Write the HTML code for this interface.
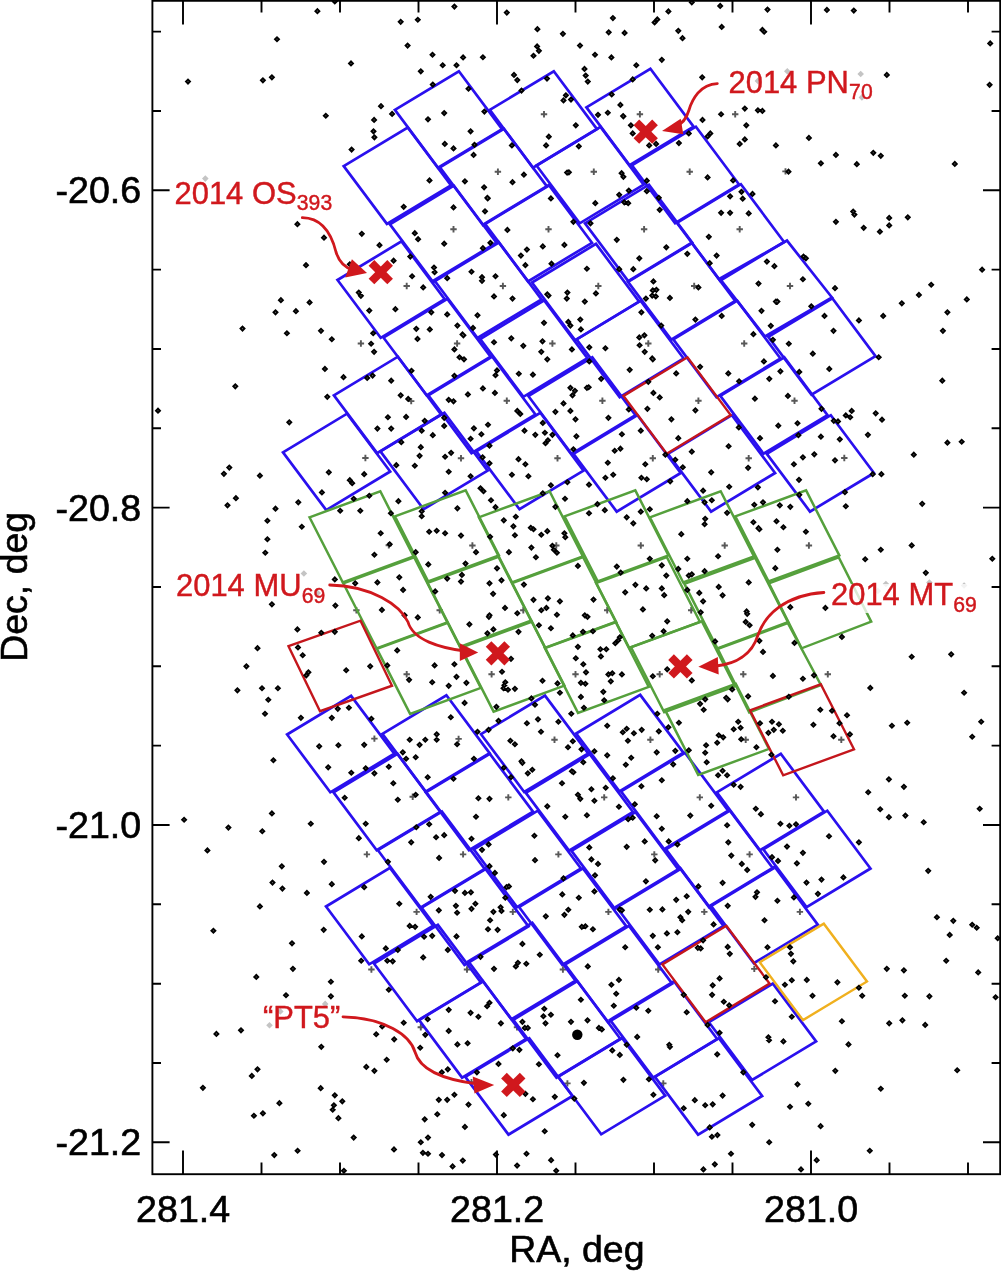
<!DOCTYPE html>
<html><head><meta charset="utf-8"><title>HST search fields</title>
<style>html,body{margin:0;padding:0;background:#fff}svg{display:block}text{font-family:"Liberation Sans",sans-serif}</style></head><body>
<svg width="1001" height="1271" viewBox="0 0 1001 1271">
<rect width="1001" height="1271" fill="#fff"/>
<path stroke="#585858" stroke-width="1.9" fill="none" d="M403.5 286.0h6.4M406.7 282.8v6.4M357.7 343.5h6.4M360.9 340.3v6.4M408.0 401.1h6.4M411.2 397.9v6.4M362.2 458.0h6.4M365.4 454.8v6.4M385.6 545.2h6.4M388.8 542.0v6.4M353.2 610.3h6.4M356.4 607.1v6.4M436.5 610.3h6.4M439.7 607.1v6.4M403.5 674.2h6.4M406.7 671.0v6.4M371.2 738.6h6.4M374.4 735.4v6.4M409.5 796.8h6.4M412.7 793.6v6.4M363.7 854.4h6.4M366.9 851.2v6.4M413.4 911.9h6.4M416.6 908.7v6.4M368.2 969.5h6.4M371.4 966.3v6.4M417.6 1027.3h6.4M420.8 1024.1v6.4M540.8 114.2h6.4M544.0 111.0v6.4M636.7 114.2h6.4M639.9 111.0v6.4M732.0 114.2h6.4M735.2 111.0v6.4M494.7 171.7h6.4M497.9 168.5v6.4M590.6 171.7h6.4M593.8 168.5v6.4M686.5 171.7h6.4M689.7 168.5v6.4M450.3 229.3h6.4M453.5 226.1v6.4M545.3 229.3h6.4M548.5 226.1v6.4M640.9 229.3h6.4M644.1 226.1v6.4M736.5 229.3h6.4M739.7 226.1v6.4M499.7 286.0h6.4M502.9 282.8v6.4M595.1 286.0h6.4M598.3 282.8v6.4M691.0 286.0h6.4M694.2 282.8v6.4M453.9 343.5h6.4M457.1 340.3v6.4M549.2 343.5h6.4M552.4 340.3v6.4M645.1 343.5h6.4M648.3 340.3v6.4M741.0 343.5h6.4M744.2 340.3v6.4M503.6 400.8h6.4M506.8 397.6v6.4M599.2 400.8h6.4M602.4 397.6v6.4M695.2 400.8h6.4M698.4 397.6v6.4M457.8 458.3h6.4M461.0 455.1v6.4M554.3 458.3h6.4M557.5 455.1v6.4M649.6 458.3h6.4M652.8 455.1v6.4M745.5 458.3h6.4M748.7 455.1v6.4M469.2 545.5h6.4M472.4 542.3v6.4M553.1 545.5h6.4M556.3 542.3v6.4M637.6 545.5h6.4M640.8 542.3v6.4M721.5 545.5h6.4M724.7 542.3v6.4M488.4 674.2h6.4M491.6 671.0v6.4M572.3 674.2h6.4M575.5 671.0v6.4M656.5 674.2h6.4M659.7 671.0v6.4M740.1 674.2h6.4M743.3 671.0v6.4M455.4 738.9h6.4M458.6 735.7v6.4M551.3 739.8h6.4M554.5 736.6v6.4M647.2 739.8h6.4M650.4 736.6v6.4M742.5 739.8h6.4M745.7 736.6v6.4M505.1 797.4h6.4M508.3 794.2v6.4M601.0 797.4h6.4M604.2 794.2v6.4M696.6 797.4h6.4M699.8 794.2v6.4M520.1 610.3h6.4M523.3 607.1v6.4M604.0 610.3h6.4M607.2 607.1v6.4M688.0 610.3h6.4M691.2 607.1v6.4M459.9 854.4h6.4M463.1 851.2v6.4M555.2 854.4h6.4M558.4 851.2v6.4M651.1 854.4h6.4M654.3 851.2v6.4M746.4 854.4h6.4M749.6 851.2v6.4M509.6 911.9h6.4M512.8 908.7v6.4M605.2 911.9h6.4M608.4 908.7v6.4M701.1 911.9h6.4M704.3 908.7v6.4M463.8 969.5h6.4M467.0 966.3v6.4M559.7 969.5h6.4M562.9 966.3v6.4M655.0 969.5h6.4M658.2 966.3v6.4M513.8 1027.3h6.4M517.0 1024.1v6.4M564.2 1083.4h6.4M567.4 1080.2v6.4M660.1 1083.4h6.4M663.3 1080.2v6.4M468.3 1082.2h6.4M471.5 1079.0v6.4M782.3 171.4h6.4M785.5 168.2v6.4M786.8 286.0h6.4M790.0 282.8v6.4M791.3 400.8h6.4M794.5 397.6v6.4M841.1 458.0h6.4M844.3 454.8v6.4M805.7 545.5h6.4M808.9 542.3v6.4M824.6 674.2h6.4M827.8 671.0v6.4M838.1 739.8h6.4M841.3 736.6v6.4M792.8 797.4h6.4M796.0 794.2v6.4M796.7 911.9h6.4M799.9 908.7v6.4M751.1 968.9h6.4M754.3 965.7v6.4"/>
<g fill="none" stroke-linejoin="miter">
<polygon stroke="#2a10ee" stroke-width="2.7" points="586.4,107.4 650.4,68.8 693.6,126.6 629.6,165.2"/>
<polygon stroke="#2a10ee" stroke-width="2.7" points="631.9,165.3 695.9,126.7 739.1,184.5 675.1,223.1"/>
<polygon stroke="#2a10ee" stroke-width="2.7" points="676.9,222.8 740.9,184.2 784.1,242.0 720.1,280.6"/>
<polygon stroke="#2a10ee" stroke-width="2.7" points="768.3,336.9 832.3,298.3 875.5,356.1 811.5,394.7"/>
<polygon stroke="#2a10ee" stroke-width="2.7" points="489.8,109.9 553.8,71.3 597.0,129.1 533.0,167.7"/>
<polygon stroke="#2a10ee" stroke-width="2.7" points="536.5,165.5 600.5,126.9 643.7,184.7 579.7,223.3"/>
<polygon stroke="#2a10ee" stroke-width="2.7" points="585.0,223.3 649.0,184.7 692.2,242.5 628.2,281.1"/>
<polygon stroke="#2a10ee" stroke-width="2.7" points="628.0,281.8 692.0,243.2 735.2,301.0 671.2,339.6"/>
<polygon stroke="#2a10ee" stroke-width="2.7" points="673.3,339.3 737.3,300.7 780.5,358.5 716.5,397.1"/>
<polygon stroke="#2a10ee" stroke-width="2.7" points="720.3,395.9 784.3,357.3 827.5,415.1 763.5,453.7"/>
<polygon stroke="#2a10ee" stroke-width="2.7" points="766.8,453.8 830.8,415.2 874.0,473.0 810.0,511.6"/>
<polygon stroke="#2a10ee" stroke-width="2.7" points="394.9,109.9 458.9,71.3 502.1,129.1 438.1,167.7"/>
<polygon stroke="#2a10ee" stroke-width="2.7" points="439.9,167.4 503.9,128.8 547.1,186.6 483.1,225.2"/>
<polygon stroke="#2a10ee" stroke-width="2.7" points="484.8,223.6 548.8,185.0 592.0,242.8 528.0,281.4"/>
<polygon stroke="#2a10ee" stroke-width="2.7" points="532.0,282.5 596.0,243.9 639.2,301.7 575.2,340.3"/>
<polygon stroke="#2a10ee" stroke-width="2.7" points="576.5,339.3 640.5,300.7 683.7,358.5 619.7,397.1"/>
<polygon stroke="#2a10ee" stroke-width="2.7" points="667.9,453.8 731.9,415.2 775.1,473.0 711.1,511.6"/>
<polygon stroke="#2a10ee" stroke-width="2.7" points="343.7,166.1 407.7,127.5 450.9,185.3 386.9,223.9"/>
<polygon stroke="#2a10ee" stroke-width="2.7" points="389.9,224.3 453.9,185.7 497.1,243.5 433.1,282.1"/>
<polygon stroke="#2a10ee" stroke-width="2.7" points="434.3,280.2 498.3,241.6 541.5,299.4 477.5,338.0"/>
<polygon stroke="#2a10ee" stroke-width="2.7" points="480.2,339.0 544.2,300.4 587.4,358.2 523.4,396.8"/>
<polygon stroke="#2a10ee" stroke-width="2.7" points="528.3,396.0 592.3,357.4 635.5,415.2 571.5,453.8"/>
<polygon stroke="#2a10ee" stroke-width="2.7" points="573.5,453.8 637.5,415.2 680.7,473.0 616.7,511.6"/>
<polygon stroke="#2a10ee" stroke-width="2.7" points="337.5,280.0 401.5,241.4 444.7,299.2 380.7,337.8"/>
<polygon stroke="#2a10ee" stroke-width="2.7" points="383.4,337.5 447.4,298.9 490.6,356.7 426.6,395.3"/>
<polygon stroke="#2a10ee" stroke-width="2.7" points="428.3,395.3 492.3,356.7 535.5,414.5 471.5,453.1"/>
<polygon stroke="#2a10ee" stroke-width="2.7" points="476.3,451.4 540.3,412.8 583.5,470.6 519.5,509.2"/>
<polygon stroke="#2a10ee" stroke-width="2.7" points="333.9,395.3 397.9,356.7 441.1,414.5 377.1,453.1"/>
<polygon stroke="#2a10ee" stroke-width="2.7" points="380.4,451.4 444.4,412.8 487.6,470.6 423.6,509.2"/>
<polygon stroke="#2a10ee" stroke-width="2.7" points="283.0,452.3 347.0,413.7 390.2,471.5 326.2,510.1"/>
<polygon stroke="#2a10ee" stroke-width="2.7" points="287.1,734.5 351.1,695.9 394.3,753.7 330.3,792.3"/>
<polygon stroke="#2a10ee" stroke-width="2.7" points="333.5,792.4 397.5,753.8 440.7,811.6 376.7,850.2"/>
<polygon stroke="#2a10ee" stroke-width="2.7" points="377.9,850.2 441.9,811.6 485.1,869.4 421.1,908.0"/>
<polygon stroke="#2a10ee" stroke-width="2.7" points="421.3,907.2 485.3,868.6 528.5,926.4 464.5,965.0"/>
<polygon stroke="#2a10ee" stroke-width="2.7" points="468.3,961.4 532.3,922.8 575.5,980.6 511.5,1019.2"/>
<polygon stroke="#2a10ee" stroke-width="2.7" points="513.3,1019.8 577.3,981.2 620.5,1039.0 556.5,1077.6"/>
<polygon stroke="#2a10ee" stroke-width="2.7" points="558.0,1076.5 622.0,1037.9 665.2,1095.7 601.2,1134.3"/>
<polygon stroke="#2a10ee" stroke-width="2.7" points="382.4,733.9 446.4,695.3 489.6,753.1 425.6,791.7"/>
<polygon stroke="#2a10ee" stroke-width="2.7" points="425.8,792.4 489.8,753.8 533.0,811.6 469.0,850.2"/>
<polygon stroke="#2a10ee" stroke-width="2.7" points="473.8,849.3 537.8,810.7 581.0,868.5 517.0,907.1"/>
<polygon stroke="#2a10ee" stroke-width="2.7" points="519.0,907.0 583.0,868.4 626.2,926.2 562.2,964.8"/>
<polygon stroke="#2a10ee" stroke-width="2.7" points="565.0,964.5 629.0,925.9 672.2,983.7 608.2,1022.3"/>
<polygon stroke="#2a10ee" stroke-width="2.7" points="610.0,1019.8 674.0,981.2 717.2,1039.0 653.2,1077.6"/>
<polygon stroke="#2a10ee" stroke-width="2.7" points="654.9,1076.8 718.9,1038.2 762.1,1096.0 698.1,1134.6"/>
<polygon stroke="#2a10ee" stroke-width="2.7" points="481.0,734.2 545.0,695.6 588.2,753.4 524.2,792.0"/>
<polygon stroke="#2a10ee" stroke-width="2.7" points="525.8,792.8 589.8,754.2 633.0,812.0 569.0,850.6"/>
<polygon stroke="#2a10ee" stroke-width="2.7" points="571.5,850.8 635.5,812.2 678.7,870.0 614.7,908.6"/>
<polygon stroke="#2a10ee" stroke-width="2.7" points="616.3,906.7 680.3,868.1 723.5,925.9 659.5,964.5"/>
<polygon stroke="#2a10ee" stroke-width="2.7" points="708.9,1022.2 772.9,983.6 816.1,1041.4 752.1,1080.0"/>
<polygon stroke="#2a10ee" stroke-width="2.7" points="576.2,733.5 640.2,694.9 683.4,752.7 619.4,791.3"/>
<polygon stroke="#2a10ee" stroke-width="2.7" points="621.0,791.4 685.0,752.8 728.2,810.6 664.2,849.2"/>
<polygon stroke="#2a10ee" stroke-width="2.7" points="665.9,849.3 729.9,810.7 773.1,868.5 709.1,907.1"/>
<polygon stroke="#2a10ee" stroke-width="2.7" points="710.6,905.4 774.6,866.8 817.8,924.6 753.8,963.2"/>
<polygon stroke="#2a10ee" stroke-width="2.7" points="716.8,792.4 780.8,753.8 824.0,811.6 760.0,850.2"/>
<polygon stroke="#2a10ee" stroke-width="2.7" points="763.3,849.3 827.3,810.7 870.5,868.5 806.5,907.1"/>
<polygon stroke="#2a10ee" stroke-width="2.7" points="326.0,906.5 390.0,867.9 433.2,925.7 369.2,964.3"/>
<polygon stroke="#2a10ee" stroke-width="2.7" points="373.9,963.5 437.9,924.9 481.1,982.7 417.1,1021.3"/>
<polygon stroke="#2a10ee" stroke-width="2.7" points="418.9,1019.8 482.9,981.2 526.1,1039.0 462.1,1077.6"/>
<polygon stroke="#2a10ee" stroke-width="2.7" points="465.3,1076.8 529.3,1038.2 572.5,1096.0 508.5,1134.6"/>
<polygon stroke="#55a03c" stroke-width="2.5" points="309.5,517.3 380.3,491.3 413.5,556.3 342.7,582.3"/>
<polygon stroke="#55a03c" stroke-width="2.5" points="343.3,583.3 414.1,557.3 447.3,622.3 376.5,648.3"/>
<polygon stroke="#55a03c" stroke-width="2.5" points="376.9,648.9 447.7,622.9 480.9,687.9 410.1,713.9"/>
<polygon stroke="#55a03c" stroke-width="2.5" points="394.9,516.4 465.7,490.4 498.9,555.4 428.1,581.4"/>
<polygon stroke="#55a03c" stroke-width="2.5" points="478.8,517.3 549.6,491.3 582.8,556.3 512.0,582.3"/>
<polygon stroke="#55a03c" stroke-width="2.5" points="512.2,583.0 583.0,557.0 616.2,622.0 545.4,648.0"/>
<polygon stroke="#55a03c" stroke-width="2.5" points="544.8,647.9 615.6,621.9 648.8,686.9 578.0,712.9"/>
<polygon stroke="#55a03c" stroke-width="2.5" points="564.5,516.4 635.3,490.4 668.5,555.4 597.7,581.4"/>
<polygon stroke="#55a03c" stroke-width="2.5" points="596.0,583.0 666.8,557.0 700.0,622.0 629.2,648.0"/>
<polygon stroke="#55a03c" stroke-width="2.5" points="631.0,647.2 701.8,621.2 735.0,686.2 664.2,712.2"/>
<polygon stroke="#55a03c" stroke-width="2.5" points="649.9,517.3 720.7,491.3 753.9,556.3 683.1,582.3"/>
<polygon stroke="#55a03c" stroke-width="2.5" points="684.4,583.9 755.2,557.9 788.4,622.9 717.6,648.9"/>
<polygon stroke="#55a03c" stroke-width="2.5" points="735.3,516.4 806.1,490.4 839.3,555.4 768.5,581.4"/>
<polygon stroke="#55a03c" stroke-width="2.5" points="665.0,709.9 735.8,683.9 769.0,748.9 698.2,774.9"/>
<polygon stroke="#55a03c" stroke-width="2.5" points="427.6,582.8 498.4,556.8 531.6,621.8 460.8,647.8"/>
<polygon stroke="#55a03c" stroke-width="2.5" points="460.4,646.6 531.2,620.6 564.4,685.6 493.6,711.6"/>
<polygon stroke="#55a03c" stroke-width="2.5" points="768.9,583.3 838.7,557.3 871.2,621.6 801.6,648.3"/>
<polygon stroke="#55a03c" stroke-width="2.5" points="717.4,648.3 787.5,622.3 820.9,685.0 749.2,712.4"/>
<polygon stroke="#2a10ee" stroke-width="2.7" points="719.7,278.6 787.0,240.6 832.0,297.5 765.0,336.5"/>
<polygon stroke="#c4161c" stroke-width="2.4" points="623.5,395.9 687.5,357.3 730.7,415.1 666.7,453.7"/>
<polygon stroke="#c4161c" stroke-width="2.4" points="288.5,646.2 360.5,620.7 392.0,685.7 320.0,711.2"/>
<polygon stroke="#c4161c" stroke-width="2.4" points="750.0,710.3 820.8,684.3 854.0,749.3 783.2,775.3"/>
<polygon stroke="#c4161c" stroke-width="2.4" points="662.4,964.4 726.4,925.8 769.6,983.6 705.6,1022.2"/>
<polygon stroke="#f0b01e" stroke-width="2.4" points="759.8,962.3 823.8,923.7 867.0,981.5 803.0,1020.1"/>
</g>
<path fill="#c4c4c4" d="M205.3 175.3l3.3 3.3l-3.3 3.3l-3.3-3.3zM303.9 570.2l3.3 3.3l-3.3 3.3l-3.3-3.3zM317.7 589.7l3.3 3.3l-3.3 3.3l-3.3-3.3zM325.2 1000.6l3.3 3.3l-3.3 3.3l-3.3-3.3zM280.3 1008.1l3.3 3.3l-3.3 3.3l-3.3-3.3zM269.5 1021.9l3.3 3.3l-3.3 3.3l-3.3-3.3zM787.3 68.0l3.3 3.3l-3.3 3.3l-3.3-3.3zM860.7 70.7l3.3 3.3l-3.3 3.3l-3.3-3.3zM861.9 94.1l3.3 3.3l-3.3 3.3l-3.3-3.3zM757.9 77.6l3.3 3.3l-3.3 3.3l-3.3-3.3zM885.9 580.7l3.3 3.3l-3.3 3.3l-3.3-3.3zM877.8 587.6l3.3 3.3l-3.3 3.3l-3.3-3.3zM929.4 579.2l3.3 3.3l-3.3 3.3l-3.3-3.3zM964.1 582.2l3.3 3.3l-3.3 3.3l-3.3-3.3z"/>
<path fill="#000" d="M317.4 7.8l3.35 3.35l-3.35 3.35l-3.35-3.35zM334.8 -1.9l3.35 3.35l-3.35 3.35l-3.35-3.35zM400.7 18.5l3.35 3.35l-3.35 3.35l-3.35-3.35zM417.8 16.4l3.35 3.35l-3.35 3.35l-3.35-3.35zM277.0 35.9l3.35 3.35l-3.35 3.35l-3.35-3.35zM407.6 42.2l3.35 3.35l-3.35 3.35l-3.35-3.35zM432.5 51.4l3.35 3.35l-3.35 3.35l-3.35-3.35zM351.0 60.1l3.35 3.35l-3.35 3.35l-3.35-3.35zM442.7 61.9l3.35 3.35l-3.35 3.35l-3.35-3.35zM420.8 68.0l3.35 3.35l-3.35 3.35l-3.35-3.35zM188.0 78.2l3.35 3.35l-3.35 3.35l-3.35-3.35zM262.9 77.0l3.35 3.35l-3.35 3.35l-3.35-3.35zM271.9 74.0l3.35 3.35l-3.35 3.35l-3.35-3.35zM432.8 81.2l3.35 3.35l-3.35 3.35l-3.35-3.35zM381.0 102.8l3.35 3.35l-3.35 3.35l-3.35-3.35zM392.1 110.6l3.35 3.35l-3.35 3.35l-3.35-3.35zM325.8 112.4l3.35 3.35l-3.35 3.35l-3.35-3.35zM374.1 116.6l3.35 3.35l-3.35 3.35l-3.35-3.35zM428.0 116.0l3.35 3.35l-3.35 3.35l-3.35-3.35zM444.2 109.7l3.35 3.35l-3.35 3.35l-3.35-3.35zM373.5 128.0l3.35 3.35l-3.35 3.35l-3.35-3.35zM374.4 134.0l3.35 3.35l-3.35 3.35l-3.35-3.35zM351.6 146.2l3.35 3.35l-3.35 3.35l-3.35-3.35zM444.8 140.6l3.35 3.35l-3.35 3.35l-3.35-3.35zM429.5 177.1l3.35 3.35l-3.35 3.35l-3.35-3.35zM403.7 203.5l3.35 3.35l-3.35 3.35l-3.35-3.35zM297.4 220.8l3.35 3.35l-3.35 3.35l-3.35-3.35zM361.8 230.5l3.35 3.35l-3.35 3.35l-3.35-3.35zM414.8 229.8l3.35 3.35l-3.35 3.35l-3.35-3.35zM418.1 235.8l3.35 3.35l-3.35 3.35l-3.35-3.35zM324.0 234.3l3.35 3.35l-3.35 3.35l-3.35-3.35zM379.5 241.8l3.35 3.35l-3.35 3.35l-3.35-3.35zM444.2 240.3l3.35 3.35l-3.35 3.35l-3.35-3.35zM410.3 253.2l3.35 3.35l-3.35 3.35l-3.35-3.35zM393.6 257.3l3.35 3.35l-3.35 3.35l-3.35-3.35zM306.0 261.8l3.35 3.35l-3.35 3.35l-3.35-3.35zM349.8 260.9l3.35 3.35l-3.35 3.35l-3.35-3.35zM434.0 264.2l3.35 3.35l-3.35 3.35l-3.35-3.35zM434.6 268.8l3.35 3.35l-3.35 3.35l-3.35-3.35zM412.1 272.9l3.35 3.35l-3.35 3.35l-3.35-3.35zM447.2 274.8l3.35 3.35l-3.35 3.35l-3.35-3.35zM353.7 1134.2l3.35 3.35l-3.35 3.35l-3.35-3.35zM428.0 1134.2l3.35 3.35l-3.35 3.35l-3.35-3.35zM420.8 1138.9l3.35 3.35l-3.35 3.35l-3.35-3.35zM464.9 1123.6l3.35 3.35l-3.35 3.35l-3.35-3.35zM544.7 1127.9l3.35 3.35l-3.35 3.35l-3.35-3.35zM394.0 1146.1l3.35 3.35l-3.35 3.35l-3.35-3.35zM422.9 1149.5l3.35 3.35l-3.35 3.35l-3.35-3.35zM428.0 1150.4l3.35 3.35l-3.35 3.35l-3.35-3.35zM442.0 1151.7l3.35 3.35l-3.35 3.35l-3.35-3.35zM274.3 1151.7l3.35 3.35l-3.35 3.35l-3.35-3.35zM297.6 1147.4l3.35 3.35l-3.35 3.35l-3.35-3.35zM495.9 1151.2l3.35 3.35l-3.35 3.35l-3.35-3.35zM526.5 1150.4l3.35 3.35l-3.35 3.35l-3.35-3.35zM551.1 1156.8l3.35 3.35l-3.35 3.35l-3.35-3.35zM462.8 1157.2l3.35 3.35l-3.35 3.35l-3.35-3.35zM452.6 1163.1l3.35 3.35l-3.35 3.35l-3.35-3.35zM517.1 1162.2l3.35 3.35l-3.35 3.35l-3.35-3.35zM556.2 1167.4l3.35 3.35l-3.35 3.35l-3.35-3.35zM343.9 1167.4l3.35 3.35l-3.35 3.35l-3.35-3.35zM280.9 296.8l3.35 3.35l-3.35 3.35l-3.35-3.35zM309.6 299.1l3.35 3.35l-3.35 3.35l-3.35-3.35zM275.5 309.0l3.35 3.35l-3.35 3.35l-3.35-3.35zM295.9 307.8l3.35 3.35l-3.35 3.35l-3.35-3.35zM242.5 325.2l3.35 3.35l-3.35 3.35l-3.35-3.35zM286.9 329.9l3.35 3.35l-3.35 3.35l-3.35-3.35zM321.0 327.5l3.35 3.35l-3.35 3.35l-3.35-3.35zM331.8 335.9l3.35 3.35l-3.35 3.35l-3.35-3.35zM358.8 289.2l3.35 3.35l-3.35 3.35l-3.35-3.35zM360.9 292.5l3.35 3.35l-3.35 3.35l-3.35-3.35zM423.2 284.1l3.35 3.35l-3.35 3.35l-3.35-3.35zM369.3 307.2l3.35 3.35l-3.35 3.35l-3.35-3.35zM395.4 305.8l3.35 3.35l-3.35 3.35l-3.35-3.35zM431.3 309.0l3.35 3.35l-3.35 3.35l-3.35-3.35zM447.2 311.1l3.35 3.35l-3.35 3.35l-3.35-3.35zM416.3 325.5l3.35 3.35l-3.35 3.35l-3.35-3.35zM429.8 326.1l3.35 3.35l-3.35 3.35l-3.35-3.35zM417.5 335.6l3.35 3.35l-3.35 3.35l-3.35-3.35zM373.2 329.9l3.35 3.35l-3.35 3.35l-3.35-3.35zM371.1 340.4l3.35 3.35l-3.35 3.35l-3.35-3.35zM374.1 348.5l3.35 3.35l-3.35 3.35l-3.35-3.35zM324.9 365.6l3.35 3.35l-3.35 3.35l-3.35-3.35zM343.5 373.8l3.35 3.35l-3.35 3.35l-3.35-3.35zM367.2 374.6l3.35 3.35l-3.35 3.35l-3.35-3.35zM372.6 372.2l3.35 3.35l-3.35 3.35l-3.35-3.35zM391.2 377.3l3.35 3.35l-3.35 3.35l-3.35-3.35zM411.5 367.4l3.35 3.35l-3.35 3.35l-3.35-3.35zM235.3 383.0l3.35 3.35l-3.35 3.35l-3.35-3.35zM327.3 393.5l3.35 3.35l-3.35 3.35l-3.35-3.35zM400.7 392.0l3.35 3.35l-3.35 3.35l-3.35-3.35zM408.2 395.6l3.35 3.35l-3.35 3.35l-3.35-3.35zM158.0 407.3l3.35 3.35l-3.35 3.35l-3.35-3.35zM289.3 419.0l3.35 3.35l-3.35 3.35l-3.35-3.35zM387.9 413.9l3.35 3.35l-3.35 3.35l-3.35-3.35zM406.1 413.6l3.35 3.35l-3.35 3.35l-3.35-3.35zM377.4 425.2l3.35 3.35l-3.35 3.35l-3.35-3.35zM391.2 425.2l3.35 3.35l-3.35 3.35l-3.35-3.35zM424.7 417.5l3.35 3.35l-3.35 3.35l-3.35-3.35zM444.2 414.5l3.35 3.35l-3.35 3.35l-3.35-3.35zM444.2 422.6l3.35 3.35l-3.35 3.35l-3.35-3.35zM421.7 427.3l3.35 3.35l-3.35 3.35l-3.35-3.35zM432.8 431.8l3.35 3.35l-3.35 3.35l-3.35-3.35zM448.7 396.5l3.35 3.35l-3.35 3.35l-3.35-3.35zM401.3 438.8l3.35 3.35l-3.35 3.35l-3.35-3.35zM420.8 443.8l3.35 3.35l-3.35 3.35l-3.35-3.35zM419.6 452.5l3.35 3.35l-3.35 3.35l-3.35-3.35zM445.1 453.4l3.35 3.35l-3.35 3.35l-3.35-3.35zM451.1 449.5l3.35 3.35l-3.35 3.35l-3.35-3.35zM396.3 461.8l3.35 3.35l-3.35 3.35l-3.35-3.35zM414.8 462.4l3.35 3.35l-3.35 3.35l-3.35-3.35zM448.7 468.4l3.35 3.35l-3.35 3.35l-3.35-3.35zM229.3 464.2l3.35 3.35l-3.35 3.35l-3.35-3.35zM223.9 470.5l3.35 3.35l-3.35 3.35l-3.35-3.35zM259.9 472.3l3.35 3.35l-3.35 3.35l-3.35-3.35zM328.8 469.0l3.35 3.35l-3.35 3.35l-3.35-3.35zM349.8 476.8l3.35 3.35l-3.35 3.35l-3.35-3.35zM352.2 479.8l3.35 3.35l-3.35 3.35l-3.35-3.35zM364.2 470.8l3.35 3.35l-3.35 3.35l-3.35-3.35zM321.9 489.1l3.35 3.35l-3.35 3.35l-3.35-3.35zM235.9 494.8l3.35 3.35l-3.35 3.35l-3.35-3.35zM227.5 502.0l3.35 3.35l-3.35 3.35l-3.35-3.35zM298.3 499.0l3.35 3.35l-3.35 3.35l-3.35-3.35zM275.5 505.3l3.35 3.35l-3.35 3.35l-3.35-3.35zM267.4 517.4l3.35 3.35l-3.35 3.35l-3.35-3.35zM301.8 523.4l3.35 3.35l-3.35 3.35l-3.35-3.35zM267.4 535.9l3.35 3.35l-3.35 3.35l-3.35-3.35zM265.3 549.4l3.35 3.35l-3.35 3.35l-3.35-3.35zM353.7 495.4l3.35 3.35l-3.35 3.35l-3.35-3.35zM369.3 492.4l3.35 3.35l-3.35 3.35l-3.35-3.35zM340.2 507.4l3.35 3.35l-3.35 3.35l-3.35-3.35zM360.3 507.4l3.35 3.35l-3.35 3.35l-3.35-3.35zM398.4 497.8l3.35 3.35l-3.35 3.35l-3.35-3.35zM390.9 509.9l3.35 3.35l-3.35 3.35l-3.35-3.35zM421.7 508.0l3.35 3.35l-3.35 3.35l-3.35-3.35zM421.7 512.9l3.35 3.35l-3.35 3.35l-3.35-3.35zM445.1 489.4l3.35 3.35l-3.35 3.35l-3.35-3.35zM380.7 529.9l3.35 3.35l-3.35 3.35l-3.35-3.35zM429.2 528.4l3.35 3.35l-3.35 3.35l-3.35-3.35zM436.7 527.4l3.35 3.35l-3.35 3.35l-3.35-3.35zM445.1 529.9l3.35 3.35l-3.35 3.35l-3.35-3.35zM389.7 540.9l3.35 3.35l-3.35 3.35l-3.35-3.35zM374.4 551.4l3.35 3.35l-3.35 3.35l-3.35-3.35zM415.7 548.8l3.35 3.35l-3.35 3.35l-3.35-3.35zM428.3 561.1l3.35 3.35l-3.35 3.35l-3.35-3.35zM334.8 576.1l3.35 3.35l-3.35 3.35l-3.35-3.35zM355.2 580.0l3.35 3.35l-3.35 3.35l-3.35-3.35zM377.4 579.1l3.35 3.35l-3.35 3.35l-3.35-3.35zM399.3 574.0l3.35 3.35l-3.35 3.35l-3.35-3.35zM403.1 586.6l3.35 3.35l-3.35 3.35l-3.35-3.35zM447.2 575.2l3.35 3.35l-3.35 3.35l-3.35-3.35zM435.2 588.1l3.35 3.35l-3.35 3.35l-3.35-3.35zM271.9 601.0l3.35 3.35l-3.35 3.35l-3.35-3.35zM335.4 602.2l3.35 3.35l-3.35 3.35l-3.35-3.35zM381.9 606.6l3.35 3.35l-3.35 3.35l-3.35-3.35zM404.6 612.0l3.35 3.35l-3.35 3.35l-3.35-3.35zM417.8 614.1l3.35 3.35l-3.35 3.35l-3.35-3.35zM297.4 626.1l3.35 3.35l-3.35 3.35l-3.35-3.35zM321.3 629.4l3.35 3.35l-3.35 3.35l-3.35-3.35zM334.8 628.5l3.35 3.35l-3.35 3.35l-3.35-3.35zM257.5 644.8l3.35 3.35l-3.35 3.35l-3.35-3.35zM298.0 644.1l3.35 3.35l-3.35 3.35l-3.35-3.35zM302.7 651.9l3.35 3.35l-3.35 3.35l-3.35-3.35zM397.2 647.1l3.35 3.35l-3.35 3.35l-3.35-3.35zM246.4 663.0l3.35 3.35l-3.35 3.35l-3.35-3.35zM346.2 666.9l3.35 3.35l-3.35 3.35l-3.35-3.35zM370.2 663.0l3.35 3.35l-3.35 3.35l-3.35-3.35zM387.3 662.1l3.35 3.35l-3.35 3.35l-3.35-3.35zM434.6 662.1l3.35 3.35l-3.35 3.35l-3.35-3.35zM308.4 669.0l3.35 3.35l-3.35 3.35l-3.35-3.35zM306.3 672.0l3.35 3.35l-3.35 3.35l-3.35-3.35zM409.1 676.5l3.35 3.35l-3.35 3.35l-3.35-3.35zM432.2 678.9l3.35 3.35l-3.35 3.35l-3.35-3.35zM448.7 682.5l3.35 3.35l-3.35 3.35l-3.35-3.35zM237.4 687.0l3.35 3.35l-3.35 3.35l-3.35-3.35zM262.0 684.9l3.35 3.35l-3.35 3.35l-3.35-3.35zM277.9 684.9l3.35 3.35l-3.35 3.35l-3.35-3.35zM268.3 696.4l3.35 3.35l-3.35 3.35l-3.35-3.35zM265.0 710.4l3.35 3.35l-3.35 3.35l-3.35-3.35zM300.9 714.5l3.35 3.35l-3.35 3.35l-3.35-3.35zM331.8 714.5l3.35 3.35l-3.35 3.35l-3.35-3.35zM337.8 705.5l3.35 3.35l-3.35 3.35l-3.35-3.35zM348.9 704.4l3.35 3.35l-3.35 3.35l-3.35-3.35zM371.4 715.4l3.35 3.35l-3.35 3.35l-3.35-3.35zM450.8 713.9l3.35 3.35l-3.35 3.35l-3.35-3.35zM319.2 743.0l3.35 3.35l-3.35 3.35l-3.35-3.35zM338.4 741.9l3.35 3.35l-3.35 3.35l-3.35-3.35zM364.2 741.5l3.35 3.35l-3.35 3.35l-3.35-3.35zM409.7 736.4l3.35 3.35l-3.35 3.35l-3.35-3.35zM425.3 736.4l3.35 3.35l-3.35 3.35l-3.35-3.35zM436.7 731.0l3.35 3.35l-3.35 3.35l-3.35-3.35zM436.7 736.4l3.35 3.35l-3.35 3.35l-3.35-3.35zM419.6 741.5l3.35 3.35l-3.35 3.35l-3.35-3.35zM402.8 749.0l3.35 3.35l-3.35 3.35l-3.35-3.35zM406.1 755.4l3.35 3.35l-3.35 3.35l-3.35-3.35zM415.7 753.9l3.35 3.35l-3.35 3.35l-3.35-3.35zM273.4 756.9l3.35 3.35l-3.35 3.35l-3.35-3.35zM328.2 764.0l3.35 3.35l-3.35 3.35l-3.35-3.35zM351.3 769.4l3.35 3.35l-3.35 3.35l-3.35-3.35zM365.7 764.9l3.35 3.35l-3.35 3.35l-3.35-3.35zM374.4 770.0l3.35 3.35l-3.35 3.35l-3.35-3.35zM388.8 763.4l3.35 3.35l-3.35 3.35l-3.35-3.35zM393.3 779.9l3.35 3.35l-3.35 3.35l-3.35-3.35zM427.7 773.9l3.35 3.35l-3.35 3.35l-3.35-3.35zM344.7 794.4l3.35 3.35l-3.35 3.35l-3.35-3.35zM397.8 796.4l3.35 3.35l-3.35 3.35l-3.35-3.35zM415.7 791.4l3.35 3.35l-3.35 3.35l-3.35-3.35zM271.9 810.1l3.35 3.35l-3.35 3.35l-3.35-3.35zM184.1 816.4l3.35 3.35l-3.35 3.35l-3.35-3.35zM228.4 824.2l3.35 3.35l-3.35 3.35l-3.35-3.35zM262.3 827.9l3.35 3.35l-3.35 3.35l-3.35-3.35zM310.8 820.4l3.35 3.35l-3.35 3.35l-3.35-3.35zM365.7 820.4l3.35 3.35l-3.35 3.35l-3.35-3.35zM358.8 834.8l3.35 3.35l-3.35 3.35l-3.35-3.35zM416.3 823.9l3.35 3.35l-3.35 3.35l-3.35-3.35zM429.2 820.9l3.35 3.35l-3.35 3.35l-3.35-3.35zM436.1 833.9l3.35 3.35l-3.35 3.35l-3.35-3.35zM444.2 831.8l3.35 3.35l-3.35 3.35l-3.35-3.35zM207.4 847.1l3.35 3.35l-3.35 3.35l-3.35-3.35zM411.2 839.0l3.35 3.35l-3.35 3.35l-3.35-3.35zM439.1 854.6l3.35 3.35l-3.35 3.35l-3.35-3.35zM281.8 863.0l3.35 3.35l-3.35 3.35l-3.35-3.35zM324.0 858.5l3.35 3.35l-3.35 3.35l-3.35-3.35zM387.9 858.5l3.35 3.35l-3.35 3.35l-3.35-3.35zM272.5 879.2l3.35 3.35l-3.35 3.35l-3.35-3.35zM282.4 885.2l3.35 3.35l-3.35 3.35l-3.35-3.35zM306.9 889.6l3.35 3.35l-3.35 3.35l-3.35-3.35zM331.8 880.8l3.35 3.35l-3.35 3.35l-3.35-3.35zM364.2 883.8l3.35 3.35l-3.35 3.35l-3.35-3.35zM259.9 903.1l3.35 3.35l-3.35 3.35l-3.35-3.35zM399.3 900.4l3.35 3.35l-3.35 3.35l-3.35-3.35zM430.7 893.5l3.35 3.35l-3.35 3.35l-3.35-3.35zM438.8 907.0l3.35 3.35l-3.35 3.35l-3.35-3.35zM213.4 927.4l3.35 3.35l-3.35 3.35l-3.35-3.35zM323.7 926.5l3.35 3.35l-3.35 3.35l-3.35-3.35zM292.0 940.0l3.35 3.35l-3.35 3.35l-3.35-3.35zM361.8 933.1l3.35 3.35l-3.35 3.35l-3.35-3.35zM409.7 922.6l3.35 3.35l-3.35 3.35l-3.35-3.35zM415.1 923.5l3.35 3.35l-3.35 3.35l-3.35-3.35zM424.1 933.4l3.35 3.35l-3.35 3.35l-3.35-3.35zM432.2 932.5l3.35 3.35l-3.35 3.35l-3.35-3.35zM385.8 945.1l3.35 3.35l-3.35 3.35l-3.35-3.35zM397.8 946.6l3.35 3.35l-3.35 3.35l-3.35-3.35zM447.8 946.6l3.35 3.35l-3.35 3.35l-3.35-3.35zM423.2 954.1l3.35 3.35l-3.35 3.35l-3.35-3.35zM361.2 957.4l3.35 3.35l-3.35 3.35l-3.35-3.35zM387.3 957.4l3.35 3.35l-3.35 3.35l-3.35-3.35zM392.7 958.0l3.35 3.35l-3.35 3.35l-3.35-3.35zM292.9 965.5l3.35 3.35l-3.35 3.35l-3.35-3.35zM256.3 973.6l3.35 3.35l-3.35 3.35l-3.35-3.35zM330.9 978.4l3.35 3.35l-3.35 3.35l-3.35-3.35zM388.8 986.4l3.35 3.35l-3.35 3.35l-3.35-3.35zM286.0 991.9l3.35 3.35l-3.35 3.35l-3.35-3.35zM330.9 993.0l3.35 3.35l-3.35 3.35l-3.35-3.35zM448.7 1006.5l3.35 3.35l-3.35 3.35l-3.35-3.35zM216.4 1030.6l3.35 3.35l-3.35 3.35l-3.35-3.35zM241.0 1027.0l3.35 3.35l-3.35 3.35l-3.35-3.35zM403.7 1019.4l3.35 3.35l-3.35 3.35l-3.35-3.35zM382.2 1023.1l3.35 3.35l-3.35 3.35l-3.35-3.35zM376.2 1030.9l3.35 3.35l-3.35 3.35l-3.35-3.35zM394.2 1036.0l3.35 3.35l-3.35 3.35l-3.35-3.35zM427.7 1015.9l3.35 3.35l-3.35 3.35l-3.35-3.35zM425.3 1031.5l3.35 3.35l-3.35 3.35l-3.35-3.35zM448.7 1027.6l3.35 3.35l-3.35 3.35l-3.35-3.35zM321.3 1043.5l3.35 3.35l-3.35 3.35l-3.35-3.35zM420.2 1044.4l3.35 3.35l-3.35 3.35l-3.35-3.35zM386.7 1056.4l3.35 3.35l-3.35 3.35l-3.35-3.35zM366.3 1063.6l3.35 3.35l-3.35 3.35l-3.35-3.35zM374.4 1067.5l3.35 3.35l-3.35 3.35l-3.35-3.35zM257.5 1066.0l3.35 3.35l-3.35 3.35l-3.35-3.35zM251.8 1072.6l3.35 3.35l-3.35 3.35l-3.35-3.35zM202.9 1084.5l3.35 3.35l-3.35 3.35l-3.35-3.35zM320.7 1084.8l3.35 3.35l-3.35 3.35l-3.35-3.35zM334.8 1092.0l3.35 3.35l-3.35 3.35l-3.35-3.35zM342.3 1098.0l3.35 3.35l-3.35 3.35l-3.35-3.35zM333.9 1101.9l3.35 3.35l-3.35 3.35l-3.35-3.35zM332.7 1106.4l3.35 3.35l-3.35 3.35l-3.35-3.35zM279.4 1099.8l3.35 3.35l-3.35 3.35l-3.35-3.35zM262.9 1110.0l3.35 3.35l-3.35 3.35l-3.35-3.35zM253.9 1112.4l3.35 3.35l-3.35 3.35l-3.35-3.35zM338.4 1114.8l3.35 3.35l-3.35 3.35l-3.35-3.35zM441.8 1069.0l3.35 3.35l-3.35 3.35l-3.35-3.35zM447.8 1066.0l3.35 3.35l-3.35 3.35l-3.35-3.35zM438.8 1096.5l3.35 3.35l-3.35 3.35l-3.35-3.35zM447.2 1096.5l3.35 3.35l-3.35 3.35l-3.35-3.35zM437.3 1110.9l3.35 3.35l-3.35 3.35l-3.35-3.35zM424.7 1116.0l3.35 3.35l-3.35 3.35l-3.35-3.35zM454.4 3.2l3.35 3.35l-3.35 3.35l-3.35-3.35zM506.8 9.2l3.35 3.35l-3.35 3.35l-3.35-3.35zM691.8 -1.0l3.35 3.35l-3.35 3.35l-3.35-3.35zM720.2 2.6l3.35 3.35l-3.35 3.35l-3.35-3.35zM612.9 14.7l3.35 3.35l-3.35 3.35l-3.35-3.35zM668.4 8.1l3.35 3.35l-3.35 3.35l-3.35-3.35zM657.3 16.1l3.35 3.35l-3.35 3.35l-3.35-3.35zM654.6 19.1l3.35 3.35l-3.35 3.35l-3.35-3.35zM721.7 23.6l3.35 3.35l-3.35 3.35l-3.35-3.35zM537.4 25.8l3.35 3.35l-3.35 3.35l-3.35-3.35zM562.9 30.5l3.35 3.35l-3.35 3.35l-3.35-3.35zM608.7 29.0l3.35 3.35l-3.35 3.35l-3.35-3.35zM624.6 29.6l3.35 3.35l-3.35 3.35l-3.35-3.35zM678.3 27.5l3.35 3.35l-3.35 3.35l-3.35-3.35zM682.5 34.8l3.35 3.35l-3.35 3.35l-3.35-3.35zM580.0 42.2l3.35 3.35l-3.35 3.35l-3.35-3.35zM537.1 43.1l3.35 3.35l-3.35 3.35l-3.35-3.35zM538.9 47.5l3.35 3.35l-3.35 3.35l-3.35-3.35zM533.5 52.4l3.35 3.35l-3.35 3.35l-3.35-3.35zM595.0 51.4l3.35 3.35l-3.35 3.35l-3.35-3.35zM611.4 54.1l3.35 3.35l-3.35 3.35l-3.35-3.35zM463.1 54.1l3.35 3.35l-3.35 3.35l-3.35-3.35zM482.9 53.9l3.35 3.35l-3.35 3.35l-3.35-3.35zM456.5 61.9l3.35 3.35l-3.35 3.35l-3.35-3.35zM661.8 56.5l3.35 3.35l-3.35 3.35l-3.35-3.35zM636.3 61.9l3.35 3.35l-3.35 3.35l-3.35-3.35zM514.0 71.6l3.35 3.35l-3.35 3.35l-3.35-3.35zM517.3 76.7l3.35 3.35l-3.35 3.35l-3.35-3.35zM584.5 65.6l3.35 3.35l-3.35 3.35l-3.35-3.35zM585.7 72.2l3.35 3.35l-3.35 3.35l-3.35-3.35zM587.8 78.2l3.35 3.35l-3.35 3.35l-3.35-3.35zM547.0 75.2l3.35 3.35l-3.35 3.35l-3.35-3.35zM632.7 76.1l3.35 3.35l-3.35 3.35l-3.35-3.35zM702.2 74.0l3.35 3.35l-3.35 3.35l-3.35-3.35zM468.5 85.4l3.35 3.35l-3.35 3.35l-3.35-3.35zM521.5 87.2l3.35 3.35l-3.35 3.35l-3.35-3.35zM565.9 92.0l3.35 3.35l-3.35 3.35l-3.35-3.35zM563.5 97.1l3.35 3.35l-3.35 3.35l-3.35-3.35zM571.0 96.2l3.35 3.35l-3.35 3.35l-3.35-3.35zM611.7 91.1l3.35 3.35l-3.35 3.35l-3.35-3.35zM620.4 101.6l3.35 3.35l-3.35 3.35l-3.35-3.35zM484.4 108.2l3.35 3.35l-3.35 3.35l-3.35-3.35zM598.0 111.5l3.35 3.35l-3.35 3.35l-3.35-3.35zM607.8 109.4l3.35 3.35l-3.35 3.35l-3.35-3.35zM623.1 112.7l3.35 3.35l-3.35 3.35l-3.35-3.35zM623.4 113.0l3.35 3.35l-3.35 3.35l-3.35-3.35zM630.9 122.0l3.35 3.35l-3.35 3.35l-3.35-3.35zM632.7 130.1l3.35 3.35l-3.35 3.35l-3.35-3.35zM575.8 122.0l3.35 3.35l-3.35 3.35l-3.35-3.35zM548.8 133.3l3.35 3.35l-3.35 3.35l-3.35-3.35zM546.1 142.1l3.35 3.35l-3.35 3.35l-3.35-3.35zM578.8 143.0l3.35 3.35l-3.35 3.35l-3.35-3.35zM470.6 128.0l3.35 3.35l-3.35 3.35l-3.35-3.35zM474.5 141.5l3.35 3.35l-3.35 3.35l-3.35-3.35zM453.5 145.1l3.35 3.35l-3.35 3.35l-3.35-3.35zM473.6 151.6l3.35 3.35l-3.35 3.35l-3.35-3.35zM511.9 142.1l3.35 3.35l-3.35 3.35l-3.35-3.35zM649.2 142.1l3.35 3.35l-3.35 3.35l-3.35-3.35zM656.1 140.6l3.35 3.35l-3.35 3.35l-3.35-3.35zM678.9 139.7l3.35 3.35l-3.35 3.35l-3.35-3.35zM688.8 130.1l3.35 3.35l-3.35 3.35l-3.35-3.35zM707.6 133.1l3.35 3.35l-3.35 3.35l-3.35-3.35zM710.3 130.1l3.35 3.35l-3.35 3.35l-3.35-3.35zM702.5 116.6l3.35 3.35l-3.35 3.35l-3.35-3.35zM721.1 110.9l3.35 3.35l-3.35 3.35l-3.35-3.35zM744.8 105.2l3.35 3.35l-3.35 3.35l-3.35-3.35zM746.3 122.0l3.35 3.35l-3.35 3.35l-3.35-3.35zM744.8 136.1l3.35 3.35l-3.35 3.35l-3.35-3.35zM739.7 140.6l3.35 3.35l-3.35 3.35l-3.35-3.35zM464.9 178.0l3.35 3.35l-3.35 3.35l-3.35-3.35zM484.1 184.0l3.35 3.35l-3.35 3.35l-3.35-3.35zM487.4 194.5l3.35 3.35l-3.35 3.35l-3.35-3.35zM487.7 195.1l3.35 3.35l-3.35 3.35l-3.35-3.35zM485.0 208.0l3.35 3.35l-3.35 3.35l-3.35-3.35zM512.5 178.8l3.35 3.35l-3.35 3.35l-3.35-3.35zM523.9 171.3l3.35 3.35l-3.35 3.35l-3.35-3.35zM567.1 169.2l3.35 3.35l-3.35 3.35l-3.35-3.35zM568.9 169.0l3.35 3.35l-3.35 3.35l-3.35-3.35zM621.6 169.8l3.35 3.35l-3.35 3.35l-3.35-3.35zM623.4 173.5l3.35 3.35l-3.35 3.35l-3.35-3.35zM646.8 177.3l3.35 3.35l-3.35 3.35l-3.35-3.35zM646.8 187.8l3.35 3.35l-3.35 3.35l-3.35-3.35zM628.8 187.2l3.35 3.35l-3.35 3.35l-3.35-3.35zM619.2 191.5l3.35 3.35l-3.35 3.35l-3.35-3.35zM624.3 199.0l3.35 3.35l-3.35 3.35l-3.35-3.35zM628.2 199.8l3.35 3.35l-3.35 3.35l-3.35-3.35zM595.3 199.8l3.35 3.35l-3.35 3.35l-3.35-3.35zM550.9 195.1l3.35 3.35l-3.35 3.35l-3.35-3.35zM658.8 194.5l3.35 3.35l-3.35 3.35l-3.35-3.35zM659.7 206.5l3.35 3.35l-3.35 3.35l-3.35-3.35zM707.6 174.1l3.35 3.35l-3.35 3.35l-3.35-3.35zM733.1 177.1l3.35 3.35l-3.35 3.35l-3.35-3.35zM730.1 193.0l3.35 3.35l-3.35 3.35l-3.35-3.35zM741.5 188.5l3.35 3.35l-3.35 3.35l-3.35-3.35zM742.7 195.3l3.35 3.35l-3.35 3.35l-3.35-3.35zM721.1 209.5l3.35 3.35l-3.35 3.35l-3.35-3.35zM730.1 209.5l3.35 3.35l-3.35 3.35l-3.35-3.35zM748.7 210.1l3.35 3.35l-3.35 3.35l-3.35-3.35zM453.5 204.1l3.35 3.35l-3.35 3.35l-3.35-3.35zM573.4 218.5l3.35 3.35l-3.35 3.35l-3.35-3.35zM590.5 220.0l3.35 3.35l-3.35 3.35l-3.35-3.35zM507.4 226.6l3.35 3.35l-3.35 3.35l-3.35-3.35zM616.8 236.5l3.35 3.35l-3.35 3.35l-3.35-3.35zM564.4 241.6l3.35 3.35l-3.35 3.35l-3.35-3.35zM542.8 243.1l3.35 3.35l-3.35 3.35l-3.35-3.35zM526.9 246.2l3.35 3.35l-3.35 3.35l-3.35-3.35zM520.9 252.2l3.35 3.35l-3.35 3.35l-3.35-3.35zM525.4 261.8l3.35 3.35l-3.35 3.35l-3.35-3.35zM551.5 260.3l3.35 3.35l-3.35 3.35l-3.35-3.35zM586.9 265.4l3.35 3.35l-3.35 3.35l-3.35-3.35zM490.4 239.5l3.35 3.35l-3.35 3.35l-3.35-3.35zM482.9 244.8l3.35 3.35l-3.35 3.35l-3.35-3.35zM471.5 268.4l3.35 3.35l-3.35 3.35l-3.35-3.35zM482.0 273.8l3.35 3.35l-3.35 3.35l-3.35-3.35zM495.5 272.9l3.35 3.35l-3.35 3.35l-3.35-3.35zM639.3 255.0l3.35 3.35l-3.35 3.35l-3.35-3.35zM666.3 244.0l3.35 3.35l-3.35 3.35l-3.35-3.35zM687.3 250.5l3.35 3.35l-3.35 3.35l-3.35-3.35zM708.8 233.5l3.35 3.35l-3.35 3.35l-3.35-3.35zM716.6 252.2l3.35 3.35l-3.35 3.35l-3.35-3.35zM619.2 265.8l3.35 3.35l-3.35 3.35l-3.35-3.35zM633.3 265.8l3.35 3.35l-3.35 3.35l-3.35-3.35zM709.7 259.8l3.35 3.35l-3.35 3.35l-3.35-3.35zM482.0 277.5l3.35 3.35l-3.35 3.35l-3.35-3.35zM494.0 293.1l3.35 3.35l-3.35 3.35l-3.35-3.35zM512.5 295.2l3.35 3.35l-3.35 3.35l-3.35-3.35zM547.3 291.0l3.35 3.35l-3.35 3.35l-3.35-3.35zM548.5 292.2l3.35 3.35l-3.35 3.35l-3.35-3.35zM567.4 289.2l3.35 3.35l-3.35 3.35l-3.35-3.35zM566.8 295.2l3.35 3.35l-3.35 3.35l-3.35-3.35zM584.8 298.2l3.35 3.35l-3.35 3.35l-3.35-3.35zM595.9 290.1l3.35 3.35l-3.35 3.35l-3.35-3.35zM653.4 278.1l3.35 3.35l-3.35 3.35l-3.35-3.35zM652.8 287.1l3.35 3.35l-3.35 3.35l-3.35-3.35zM656.4 286.5l3.35 3.35l-3.35 3.35l-3.35-3.35zM652.2 292.2l3.35 3.35l-3.35 3.35l-3.35-3.35zM655.8 293.1l3.35 3.35l-3.35 3.35l-3.35-3.35zM645.9 295.2l3.35 3.35l-3.35 3.35l-3.35-3.35zM669.9 294.6l3.35 3.35l-3.35 3.35l-3.35-3.35zM698.4 284.1l3.35 3.35l-3.35 3.35l-3.35-3.35zM477.5 312.0l3.35 3.35l-3.35 3.35l-3.35-3.35zM457.4 322.2l3.35 3.35l-3.35 3.35l-3.35-3.35zM462.5 331.1l3.35 3.35l-3.35 3.35l-3.35-3.35zM463.4 332.0l3.35 3.35l-3.35 3.35l-3.35-3.35zM473.0 324.6l3.35 3.35l-3.35 3.35l-3.35-3.35zM544.0 319.5l3.35 3.35l-3.35 3.35l-3.35-3.35zM568.3 318.6l3.35 3.35l-3.35 3.35l-3.35-3.35zM570.4 322.2l3.35 3.35l-3.35 3.35l-3.35-3.35zM580.3 316.2l3.35 3.35l-3.35 3.35l-3.35-3.35zM580.9 326.1l3.35 3.35l-3.35 3.35l-3.35-3.35zM641.4 309.0l3.35 3.35l-3.35 3.35l-3.35-3.35zM695.4 316.2l3.35 3.35l-3.35 3.35l-3.35-3.35zM721.7 312.6l3.35 3.35l-3.35 3.35l-3.35-3.35zM661.2 322.2l3.35 3.35l-3.35 3.35l-3.35-3.35zM511.3 335.0l3.35 3.35l-3.35 3.35l-3.35-3.35zM494.0 338.9l3.35 3.35l-3.35 3.35l-3.35-3.35zM523.3 342.5l3.35 3.35l-3.35 3.35l-3.35-3.35zM542.5 338.0l3.35 3.35l-3.35 3.35l-3.35-3.35zM541.3 348.5l3.35 3.35l-3.35 3.35l-3.35-3.35zM547.3 356.0l3.35 3.35l-3.35 3.35l-3.35-3.35zM571.9 346.1l3.35 3.35l-3.35 3.35l-3.35-3.35zM454.4 346.1l3.35 3.35l-3.35 3.35l-3.35-3.35zM459.5 353.9l3.35 3.35l-3.35 3.35l-3.35-3.35zM464.0 356.0l3.35 3.35l-3.35 3.35l-3.35-3.35zM605.4 344.9l3.35 3.35l-3.35 3.35l-3.35-3.35zM589.3 344.0l3.35 3.35l-3.35 3.35l-3.35-3.35zM639.3 334.1l3.35 3.35l-3.35 3.35l-3.35-3.35zM644.4 332.0l3.35 3.35l-3.35 3.35l-3.35-3.35zM639.6 341.9l3.35 3.35l-3.35 3.35l-3.35-3.35zM644.7 348.5l3.35 3.35l-3.35 3.35l-3.35-3.35zM652.2 355.1l3.35 3.35l-3.35 3.35l-3.35-3.35zM652.8 356.0l3.35 3.35l-3.35 3.35l-3.35-3.35zM589.3 358.1l3.35 3.35l-3.35 3.35l-3.35-3.35zM629.7 366.5l3.35 3.35l-3.35 3.35l-3.35-3.35zM676.2 370.1l3.35 3.35l-3.35 3.35l-3.35-3.35zM700.1 363.5l3.35 3.35l-3.35 3.35l-3.35-3.35zM728.3 370.1l3.35 3.35l-3.35 3.35l-3.35-3.35zM739.1 377.9l3.35 3.35l-3.35 3.35l-3.35-3.35zM454.4 372.5l3.35 3.35l-3.35 3.35l-3.35-3.35zM497.0 367.1l3.35 3.35l-3.35 3.35l-3.35-3.35zM495.5 371.9l3.35 3.35l-3.35 3.35l-3.35-3.35zM518.8 370.4l3.35 3.35l-3.35 3.35l-3.35-3.35zM532.9 371.3l3.35 3.35l-3.35 3.35l-3.35-3.35zM467.9 391.1l3.35 3.35l-3.35 3.35l-3.35-3.35zM482.9 385.1l3.35 3.35l-3.35 3.35l-3.35-3.35zM494.9 389.6l3.35 3.35l-3.35 3.35l-3.35-3.35zM570.4 384.5l3.35 3.35l-3.35 3.35l-3.35-3.35zM574.9 387.5l3.35 3.35l-3.35 3.35l-3.35-3.35zM572.5 392.0l3.35 3.35l-3.35 3.35l-3.35-3.35zM586.9 384.5l3.35 3.35l-3.35 3.35l-3.35-3.35zM588.7 383.9l3.35 3.35l-3.35 3.35l-3.35-3.35zM601.2 375.5l3.35 3.35l-3.35 3.35l-3.35-3.35zM648.3 378.5l3.35 3.35l-3.35 3.35l-3.35-3.35zM653.4 389.6l3.35 3.35l-3.35 3.35l-3.35-3.35zM659.7 394.1l3.35 3.35l-3.35 3.35l-3.35-3.35zM453.5 398.0l3.35 3.35l-3.35 3.35l-3.35-3.35zM563.5 400.1l3.35 3.35l-3.35 3.35l-3.35-3.35zM555.4 408.5l3.35 3.35l-3.35 3.35l-3.35-3.35zM570.4 407.6l3.35 3.35l-3.35 3.35l-3.35-3.35zM575.5 416.0l3.35 3.35l-3.35 3.35l-3.35-3.35zM517.3 407.6l3.35 3.35l-3.35 3.35l-3.35-3.35zM520.3 410.6l3.35 3.35l-3.35 3.35l-3.35-3.35zM608.4 414.5l3.35 3.35l-3.35 3.35l-3.35-3.35zM628.8 406.1l3.35 3.35l-3.35 3.35l-3.35-3.35zM647.4 405.5l3.35 3.35l-3.35 3.35l-3.35-3.35zM695.4 407.0l3.35 3.35l-3.35 3.35l-3.35-3.35zM671.4 416.0l3.35 3.35l-3.35 3.35l-3.35-3.35zM473.9 425.0l3.35 3.35l-3.35 3.35l-3.35-3.35zM488.0 421.4l3.35 3.35l-3.35 3.35l-3.35-3.35zM481.4 430.9l3.35 3.35l-3.35 3.35l-3.35-3.35zM470.6 435.4l3.35 3.35l-3.35 3.35l-3.35-3.35zM542.8 419.6l3.35 3.35l-3.35 3.35l-3.35-3.35zM524.5 427.3l3.35 3.35l-3.35 3.35l-3.35-3.35zM535.3 431.5l3.35 3.35l-3.35 3.35l-3.35-3.35zM544.9 429.4l3.35 3.35l-3.35 3.35l-3.35-3.35zM552.4 431.5l3.35 3.35l-3.35 3.35l-3.35-3.35zM547.9 436.9l3.35 3.35l-3.35 3.35l-3.35-3.35zM545.5 439.9l3.35 3.35l-3.35 3.35l-3.35-3.35zM576.4 433.0l3.35 3.35l-3.35 3.35l-3.35-3.35zM621.9 430.9l3.35 3.35l-3.35 3.35l-3.35-3.35zM640.8 427.3l3.35 3.35l-3.35 3.35l-3.35-3.35zM678.3 434.8l3.35 3.35l-3.35 3.35l-3.35-3.35zM738.8 424.1l3.35 3.35l-3.35 3.35l-3.35-3.35zM728.6 442.9l3.35 3.35l-3.35 3.35l-3.35-3.35zM489.5 442.3l3.35 3.35l-3.35 3.35l-3.35-3.35zM573.4 445.9l3.35 3.35l-3.35 3.35l-3.35-3.35zM614.7 447.4l3.35 3.35l-3.35 3.35l-3.35-3.35zM620.4 445.3l3.35 3.35l-3.35 3.35l-3.35-3.35zM691.8 448.3l3.35 3.35l-3.35 3.35l-3.35-3.35zM665.4 451.3l3.35 3.35l-3.35 3.35l-3.35-3.35zM675.3 456.4l3.35 3.35l-3.35 3.35l-3.35-3.35zM682.8 463.9l3.35 3.35l-3.35 3.35l-3.35-3.35zM748.1 464.5l3.35 3.35l-3.35 3.35l-3.35-3.35zM482.6 454.0l3.35 3.35l-3.35 3.35l-3.35-3.35zM489.5 460.0l3.35 3.35l-3.35 3.35l-3.35-3.35zM518.5 455.8l3.35 3.35l-3.35 3.35l-3.35-3.35zM525.4 460.9l3.35 3.35l-3.35 3.35l-3.35-3.35zM607.8 459.4l3.35 3.35l-3.35 3.35l-3.35-3.35zM645.3 460.9l3.35 3.35l-3.35 3.35l-3.35-3.35zM711.2 469.0l3.35 3.35l-3.35 3.35l-3.35-3.35zM511.9 471.4l3.35 3.35l-3.35 3.35l-3.35-3.35zM528.4 472.9l3.35 3.35l-3.35 3.35l-3.35-3.35zM470.6 472.9l3.35 3.35l-3.35 3.35l-3.35-3.35zM613.2 471.4l3.35 3.35l-3.35 3.35l-3.35-3.35zM605.4 474.4l3.35 3.35l-3.35 3.35l-3.35-3.35zM641.4 474.4l3.35 3.35l-3.35 3.35l-3.35-3.35zM646.8 475.9l3.35 3.35l-3.35 3.35l-3.35-3.35zM670.2 478.0l3.35 3.35l-3.35 3.35l-3.35-3.35zM567.4 478.9l3.35 3.35l-3.35 3.35l-3.35-3.35zM550.9 481.9l3.35 3.35l-3.35 3.35l-3.35-3.35zM589.0 481.3l3.35 3.35l-3.35 3.35l-3.35-3.35zM729.2 483.4l3.35 3.35l-3.35 3.35l-3.35-3.35zM703.1 487.3l3.35 3.35l-3.35 3.35l-3.35-3.35zM480.5 484.9l3.35 3.35l-3.35 3.35l-3.35-3.35zM483.5 487.9l3.35 3.35l-3.35 3.35l-3.35-3.35zM491.0 496.9l3.35 3.35l-3.35 3.35l-3.35-3.35zM495.5 503.8l3.35 3.35l-3.35 3.35l-3.35-3.35zM457.4 505.0l3.35 3.35l-3.35 3.35l-3.35-3.35zM542.8 490.0l3.35 3.35l-3.35 3.35l-3.35-3.35zM565.0 495.4l3.35 3.35l-3.35 3.35l-3.35-3.35zM555.4 503.5l3.35 3.35l-3.35 3.35l-3.35-3.35zM687.3 497.8l3.35 3.35l-3.35 3.35l-3.35-3.35zM704.6 499.0l3.35 3.35l-3.35 3.35l-3.35-3.35zM711.8 496.9l3.35 3.35l-3.35 3.35l-3.35-3.35zM727.1 509.5l3.35 3.35l-3.35 3.35l-3.35-3.35zM649.8 505.9l3.35 3.35l-3.35 3.35l-3.35-3.35zM640.8 508.3l3.35 3.35l-3.35 3.35l-3.35-3.35zM604.8 506.8l3.35 3.35l-3.35 3.35l-3.35-3.35zM589.0 509.9l3.35 3.35l-3.35 3.35l-3.35-3.35zM597.4 500.8l3.35 3.35l-3.35 3.35l-3.35-3.35zM626.7 514.0l3.35 3.35l-3.35 3.35l-3.35-3.35zM633.3 520.0l3.35 3.35l-3.35 3.35l-3.35-3.35zM705.2 515.5l3.35 3.35l-3.35 3.35l-3.35-3.35zM704.6 520.9l3.35 3.35l-3.35 3.35l-3.35-3.35zM503.8 517.0l3.35 3.35l-3.35 3.35l-3.35-3.35zM515.8 513.4l3.35 3.35l-3.35 3.35l-3.35-3.35zM513.4 523.0l3.35 3.35l-3.35 3.35l-3.35-3.35zM530.8 524.4l3.35 3.35l-3.35 3.35l-3.35-3.35zM533.5 525.9l3.35 3.35l-3.35 3.35l-3.35-3.35zM547.3 527.8l3.35 3.35l-3.35 3.35l-3.35-3.35zM541.3 531.4l3.35 3.35l-3.35 3.35l-3.35-3.35zM564.4 529.9l3.35 3.35l-3.35 3.35l-3.35-3.35zM565.3 533.8l3.35 3.35l-3.35 3.35l-3.35-3.35zM514.9 531.9l3.35 3.35l-3.35 3.35l-3.35-3.35zM461.0 532.2l3.35 3.35l-3.35 3.35l-3.35-3.35zM490.1 533.4l3.35 3.35l-3.35 3.35l-3.35-3.35zM681.3 530.8l3.35 3.35l-3.35 3.35l-3.35-3.35zM476.0 548.8l3.35 3.35l-3.35 3.35l-3.35-3.35zM508.9 548.8l3.35 3.35l-3.35 3.35l-3.35-3.35zM531.4 544.2l3.35 3.35l-3.35 3.35l-3.35-3.35zM552.4 542.4l3.35 3.35l-3.35 3.35l-3.35-3.35zM553.9 546.4l3.35 3.35l-3.35 3.35l-3.35-3.35zM556.9 549.4l3.35 3.35l-3.35 3.35l-3.35-3.35zM535.9 553.9l3.35 3.35l-3.35 3.35l-3.35-3.35zM649.8 555.4l3.35 3.35l-3.35 3.35l-3.35-3.35zM687.3 555.4l3.35 3.35l-3.35 3.35l-3.35-3.35zM718.1 552.9l3.35 3.35l-3.35 3.35l-3.35-3.35zM465.5 560.2l3.35 3.35l-3.35 3.35l-3.35-3.35zM497.0 565.0l3.35 3.35l-3.35 3.35l-3.35-3.35zM461.9 571.6l3.35 3.35l-3.35 3.35l-3.35-3.35zM461.0 578.2l3.35 3.35l-3.35 3.35l-3.35-3.35zM489.5 580.0l3.35 3.35l-3.35 3.35l-3.35-3.35zM501.5 577.0l3.35 3.35l-3.35 3.35l-3.35-3.35zM493.1 590.5l3.35 3.35l-3.35 3.35l-3.35-3.35zM523.9 581.2l3.35 3.35l-3.35 3.35l-3.35-3.35zM533.5 596.5l3.35 3.35l-3.35 3.35l-3.35-3.35zM547.9 595.0l3.35 3.35l-3.35 3.35l-3.35-3.35zM559.9 598.0l3.35 3.35l-3.35 3.35l-3.35-3.35zM541.3 606.9l3.35 3.35l-3.35 3.35l-3.35-3.35zM546.4 604.6l3.35 3.35l-3.35 3.35l-3.35-3.35zM556.9 611.4l3.35 3.35l-3.35 3.35l-3.35-3.35zM505.0 604.6l3.35 3.35l-3.35 3.35l-3.35-3.35zM517.3 609.9l3.35 3.35l-3.35 3.35l-3.35-3.35zM489.5 612.0l3.35 3.35l-3.35 3.35l-3.35-3.35zM488.9 613.5l3.35 3.35l-3.35 3.35l-3.35-3.35zM469.4 621.0l3.35 3.35l-3.35 3.35l-3.35-3.35zM538.9 621.9l3.35 3.35l-3.35 3.35l-3.35-3.35zM550.9 624.9l3.35 3.35l-3.35 3.35l-3.35-3.35zM518.5 628.5l3.35 3.35l-3.35 3.35l-3.35-3.35zM493.4 626.1l3.35 3.35l-3.35 3.35l-3.35-3.35zM487.4 630.0l3.35 3.35l-3.35 3.35l-3.35-3.35zM577.9 562.6l3.35 3.35l-3.35 3.35l-3.35-3.35zM616.8 563.2l3.35 3.35l-3.35 3.35l-3.35-3.35zM620.7 569.2l3.35 3.35l-3.35 3.35l-3.35-3.35zM593.5 596.2l3.35 3.35l-3.35 3.35l-3.35-3.35zM584.8 612.0l3.35 3.35l-3.35 3.35l-3.35-3.35zM587.5 613.5l3.35 3.35l-3.35 3.35l-3.35-3.35zM572.8 632.1l3.35 3.35l-3.35 3.35l-3.35-3.35zM583.0 628.5l3.35 3.35l-3.35 3.35l-3.35-3.35zM592.9 627.9l3.35 3.35l-3.35 3.35l-3.35-3.35zM625.2 589.0l3.35 3.35l-3.35 3.35l-3.35-3.35zM635.4 581.5l3.35 3.35l-3.35 3.35l-3.35-3.35zM646.2 585.1l3.35 3.35l-3.35 3.35l-3.35-3.35zM661.8 562.0l3.35 3.35l-3.35 3.35l-3.35-3.35zM666.3 572.2l3.35 3.35l-3.35 3.35l-3.35-3.35zM661.8 585.1l3.35 3.35l-3.35 3.35l-3.35-3.35zM664.2 591.8l3.35 3.35l-3.35 3.35l-3.35-3.35zM642.9 606.1l3.35 3.35l-3.35 3.35l-3.35-3.35zM667.2 618.0l3.35 3.35l-3.35 3.35l-3.35-3.35zM652.2 632.4l3.35 3.35l-3.35 3.35l-3.35-3.35zM663.6 627.9l3.35 3.35l-3.35 3.35l-3.35-3.35zM678.3 565.6l3.35 3.35l-3.35 3.35l-3.35-3.35zM688.8 572.2l3.35 3.35l-3.35 3.35l-3.35-3.35zM691.8 571.0l3.35 3.35l-3.35 3.35l-3.35-3.35zM704.6 567.8l3.35 3.35l-3.35 3.35l-3.35-3.35zM687.3 586.6l3.35 3.35l-3.35 3.35l-3.35-3.35zM699.3 589.6l3.35 3.35l-3.35 3.35l-3.35-3.35zM703.1 598.0l3.35 3.35l-3.35 3.35l-3.35-3.35zM700.7 609.0l3.35 3.35l-3.35 3.35l-3.35-3.35zM718.7 583.6l3.35 3.35l-3.35 3.35l-3.35-3.35zM722.6 592.0l3.35 3.35l-3.35 3.35l-3.35-3.35zM748.7 579.1l3.35 3.35l-3.35 3.35l-3.35-3.35zM746.6 608.1l3.35 3.35l-3.35 3.35l-3.35-3.35zM747.2 610.5l3.35 3.35l-3.35 3.35l-3.35-3.35zM745.7 618.6l3.35 3.35l-3.35 3.35l-3.35-3.35zM749.6 621.9l3.35 3.35l-3.35 3.35l-3.35-3.35zM715.1 638.1l3.35 3.35l-3.35 3.35l-3.35-3.35zM577.9 643.5l3.35 3.35l-3.35 3.35l-3.35-3.35zM575.8 654.9l3.35 3.35l-3.35 3.35l-3.35-3.35zM583.3 660.9l3.35 3.35l-3.35 3.35l-3.35-3.35zM600.4 645.9l3.35 3.35l-3.35 3.35l-3.35-3.35zM606.3 645.9l3.35 3.35l-3.35 3.35l-3.35-3.35zM600.9 653.1l3.35 3.35l-3.35 3.35l-3.35-3.35zM615.3 639.9l3.35 3.35l-3.35 3.35l-3.35-3.35zM618.3 636.9l3.35 3.35l-3.35 3.35l-3.35-3.35zM619.8 633.9l3.35 3.35l-3.35 3.35l-3.35-3.35zM586.0 669.0l3.35 3.35l-3.35 3.35l-3.35-3.35zM580.9 679.5l3.35 3.35l-3.35 3.35l-3.35-3.35zM585.4 680.4l3.35 3.35l-3.35 3.35l-3.35-3.35zM608.4 671.1l3.35 3.35l-3.35 3.35l-3.35-3.35zM612.3 669.9l3.35 3.35l-3.35 3.35l-3.35-3.35zM621.9 671.1l3.35 3.35l-3.35 3.35l-3.35-3.35zM610.8 678.0l3.35 3.35l-3.35 3.35l-3.35-3.35zM603.3 688.5l3.35 3.35l-3.35 3.35l-3.35-3.35zM580.9 693.6l3.35 3.35l-3.35 3.35l-3.35-3.35zM604.2 696.9l3.35 3.35l-3.35 3.35l-3.35-3.35zM583.9 704.4l3.35 3.35l-3.35 3.35l-3.35-3.35zM511.0 655.5l3.35 3.35l-3.35 3.35l-3.35-3.35zM454.4 660.9l3.35 3.35l-3.35 3.35l-3.35-3.35zM502.0 668.4l3.35 3.35l-3.35 3.35l-3.35-3.35zM456.5 673.5l3.35 3.35l-3.35 3.35l-3.35-3.35zM466.4 679.5l3.35 3.35l-3.35 3.35l-3.35-3.35zM505.3 678.9l3.35 3.35l-3.35 3.35l-3.35-3.35zM504.4 681.9l3.35 3.35l-3.35 3.35l-3.35-3.35zM503.5 684.9l3.35 3.35l-3.35 3.35l-3.35-3.35zM508.0 686.4l3.35 3.35l-3.35 3.35l-3.35-3.35zM514.9 685.5l3.35 3.35l-3.35 3.35l-3.35-3.35zM542.5 677.4l3.35 3.35l-3.35 3.35l-3.35-3.35zM557.5 680.1l3.35 3.35l-3.35 3.35l-3.35-3.35zM559.9 689.4l3.35 3.35l-3.35 3.35l-3.35-3.35zM531.4 695.1l3.35 3.35l-3.35 3.35l-3.35-3.35zM535.0 701.4l3.35 3.35l-3.35 3.35l-3.35-3.35zM496.4 703.5l3.35 3.35l-3.35 3.35l-3.35-3.35zM464.6 699.6l3.35 3.35l-3.35 3.35l-3.35-3.35zM571.3 710.4l3.35 3.35l-3.35 3.35l-3.35-3.35zM652.8 672.9l3.35 3.35l-3.35 3.35l-3.35-3.35zM667.2 666.0l3.35 3.35l-3.35 3.35l-3.35-3.35zM691.8 677.1l3.35 3.35l-3.35 3.35l-3.35-3.35zM732.2 686.1l3.35 3.35l-3.35 3.35l-3.35-3.35zM705.2 696.0l3.35 3.35l-3.35 3.35l-3.35-3.35zM700.1 700.5l3.35 3.35l-3.35 3.35l-3.35-3.35zM703.7 706.4l3.35 3.35l-3.35 3.35l-3.35-3.35zM726.2 694.5l3.35 3.35l-3.35 3.35l-3.35-3.35zM727.7 696.0l3.35 3.35l-3.35 3.35l-3.35-3.35zM748.1 693.0l3.35 3.35l-3.35 3.35l-3.35-3.35zM657.3 710.4l3.35 3.35l-3.35 3.35l-3.35-3.35zM668.4 723.9l3.35 3.35l-3.35 3.35l-3.35-3.35zM678.9 719.4l3.35 3.35l-3.35 3.35l-3.35-3.35zM498.5 717.5l3.35 3.35l-3.35 3.35l-3.35-3.35zM526.9 719.9l3.35 3.35l-3.35 3.35l-3.35-3.35zM538.0 716.0l3.35 3.35l-3.35 3.35l-3.35-3.35zM558.4 718.4l3.35 3.35l-3.35 3.35l-3.35-3.35zM541.0 728.4l3.35 3.35l-3.35 3.35l-3.35-3.35zM488.6 726.5l3.35 3.35l-3.35 3.35l-3.35-3.35zM477.5 728.4l3.35 3.35l-3.35 3.35l-3.35-3.35zM510.4 737.4l3.35 3.35l-3.35 3.35l-3.35-3.35zM514.9 740.9l3.35 3.35l-3.35 3.35l-3.35-3.35zM457.1 740.9l3.35 3.35l-3.35 3.35l-3.35-3.35zM572.8 737.9l3.35 3.35l-3.35 3.35l-3.35-3.35zM568.0 743.9l3.35 3.35l-3.35 3.35l-3.35-3.35zM581.5 746.0l3.35 3.35l-3.35 3.35l-3.35-3.35zM594.4 747.9l3.35 3.35l-3.35 3.35l-3.35-3.35zM607.2 722.4l3.35 3.35l-3.35 3.35l-3.35-3.35zM622.8 728.9l3.35 3.35l-3.35 3.35l-3.35-3.35zM626.7 725.4l3.35 3.35l-3.35 3.35l-3.35-3.35zM633.9 729.9l3.35 3.35l-3.35 3.35l-3.35-3.35zM641.7 726.5l3.35 3.35l-3.35 3.35l-3.35-3.35zM627.9 737.4l3.35 3.35l-3.35 3.35l-3.35-3.35zM658.8 728.0l3.35 3.35l-3.35 3.35l-3.35-3.35zM675.3 747.5l3.35 3.35l-3.35 3.35l-3.35-3.35zM656.7 749.0l3.35 3.35l-3.35 3.35l-3.35-3.35zM688.8 746.9l3.35 3.35l-3.35 3.35l-3.35-3.35zM631.2 754.4l3.35 3.35l-3.35 3.35l-3.35-3.35zM607.2 752.0l3.35 3.35l-3.35 3.35l-3.35-3.35zM625.8 761.4l3.35 3.35l-3.35 3.35l-3.35-3.35zM673.2 761.0l3.35 3.35l-3.35 3.35l-3.35-3.35zM583.3 758.9l3.35 3.35l-3.35 3.35l-3.35-3.35zM571.9 767.9l3.35 3.35l-3.35 3.35l-3.35-3.35zM573.4 768.9l3.35 3.35l-3.35 3.35l-3.35-3.35zM521.5 758.0l3.35 3.35l-3.35 3.35l-3.35-3.35zM522.4 759.5l3.35 3.35l-3.35 3.35l-3.35-3.35zM532.3 766.4l3.35 3.35l-3.35 3.35l-3.35-3.35zM527.8 770.0l3.35 3.35l-3.35 3.35l-3.35-3.35zM503.8 764.4l3.35 3.35l-3.35 3.35l-3.35-3.35zM511.0 773.9l3.35 3.35l-3.35 3.35l-3.35-3.35zM473.9 755.4l3.35 3.35l-3.35 3.35l-3.35-3.35zM453.5 775.4l3.35 3.35l-3.35 3.35l-3.35-3.35zM562.0 779.9l3.35 3.35l-3.35 3.35l-3.35-3.35zM612.9 774.9l3.35 3.35l-3.35 3.35l-3.35-3.35zM661.8 776.9l3.35 3.35l-3.35 3.35l-3.35-3.35zM641.4 782.9l3.35 3.35l-3.35 3.35l-3.35-3.35zM738.2 718.4l3.35 3.35l-3.35 3.35l-3.35-3.35zM733.7 725.9l3.35 3.35l-3.35 3.35l-3.35-3.35zM740.6 724.4l3.35 3.35l-3.35 3.35l-3.35-3.35zM718.7 731.9l3.35 3.35l-3.35 3.35l-3.35-3.35zM723.2 734.0l3.35 3.35l-3.35 3.35l-3.35-3.35zM717.2 739.4l3.35 3.35l-3.35 3.35l-3.35-3.35zM706.1 741.9l3.35 3.35l-3.35 3.35l-3.35-3.35zM705.2 749.4l3.35 3.35l-3.35 3.35l-3.35-3.35zM706.7 758.9l3.35 3.35l-3.35 3.35l-3.35-3.35zM741.2 735.9l3.35 3.35l-3.35 3.35l-3.35-3.35zM722.6 767.4l3.35 3.35l-3.35 3.35l-3.35-3.35zM718.1 771.9l3.35 3.35l-3.35 3.35l-3.35-3.35zM727.1 771.9l3.35 3.35l-3.35 3.35l-3.35-3.35zM733.7 781.4l3.35 3.35l-3.35 3.35l-3.35-3.35zM740.6 783.5l3.35 3.35l-3.35 3.35l-3.35-3.35zM478.4 794.9l3.35 3.35l-3.35 3.35l-3.35-3.35zM489.5 795.5l3.35 3.35l-3.35 3.35l-3.35-3.35zM476.0 813.4l3.35 3.35l-3.35 3.35l-3.35-3.35zM547.3 803.0l3.35 3.35l-3.35 3.35l-3.35-3.35zM565.3 813.4l3.35 3.35l-3.35 3.35l-3.35-3.35zM586.9 811.9l3.35 3.35l-3.35 3.35l-3.35-3.35zM577.9 791.4l3.35 3.35l-3.35 3.35l-3.35-3.35zM580.3 795.5l3.35 3.35l-3.35 3.35l-3.35-3.35zM591.4 785.9l3.35 3.35l-3.35 3.35l-3.35-3.35zM594.4 797.4l3.35 3.35l-3.35 3.35l-3.35-3.35zM605.7 784.4l3.35 3.35l-3.35 3.35l-3.35-3.35zM618.9 803.4l3.35 3.35l-3.35 3.35l-3.35-3.35zM634.8 800.9l3.35 3.35l-3.35 3.35l-3.35-3.35zM628.2 815.9l3.35 3.35l-3.35 3.35l-3.35-3.35zM632.7 814.4l3.35 3.35l-3.35 3.35l-3.35-3.35zM656.7 812.9l3.35 3.35l-3.35 3.35l-3.35-3.35zM661.8 825.4l3.35 3.35l-3.35 3.35l-3.35-3.35zM690.3 812.2l3.35 3.35l-3.35 3.35l-3.35-3.35zM711.2 802.4l3.35 3.35l-3.35 3.35l-3.35-3.35zM727.1 821.9l3.35 3.35l-3.35 3.35l-3.35-3.35zM534.4 832.4l3.35 3.35l-3.35 3.35l-3.35-3.35zM471.5 835.4l3.35 3.35l-3.35 3.35l-3.35-3.35zM482.0 846.5l3.35 3.35l-3.35 3.35l-3.35-3.35zM488.6 841.1l3.35 3.35l-3.35 3.35l-3.35-3.35zM589.3 844.1l3.35 3.35l-3.35 3.35l-3.35-3.35zM626.7 843.5l3.35 3.35l-3.35 3.35l-3.35-3.35zM644.7 838.1l3.35 3.35l-3.35 3.35l-3.35-3.35zM668.7 838.1l3.35 3.35l-3.35 3.35l-3.35-3.35zM677.4 841.1l3.35 3.35l-3.35 3.35l-3.35-3.35zM728.3 839.0l3.35 3.35l-3.35 3.35l-3.35-3.35zM535.0 856.8l3.35 3.35l-3.35 3.35l-3.35-3.35zM591.4 856.1l3.35 3.35l-3.35 3.35l-3.35-3.35zM598.0 860.6l3.35 3.35l-3.35 3.35l-3.35-3.35zM655.2 857.0l3.35 3.35l-3.35 3.35l-3.35-3.35zM731.3 852.2l3.35 3.35l-3.35 3.35l-3.35-3.35zM741.8 860.6l3.35 3.35l-3.35 3.35l-3.35-3.35zM747.2 866.6l3.35 3.35l-3.35 3.35l-3.35-3.35zM489.5 862.8l3.35 3.35l-3.35 3.35l-3.35-3.35zM494.9 869.6l3.35 3.35l-3.35 3.35l-3.35-3.35zM563.5 875.0l3.35 3.35l-3.35 3.35l-3.35-3.35zM595.0 872.0l3.35 3.35l-3.35 3.35l-3.35-3.35zM645.9 878.0l3.35 3.35l-3.35 3.35l-3.35-3.35zM722.6 879.5l3.35 3.35l-3.35 3.35l-3.35-3.35zM698.4 883.1l3.35 3.35l-3.35 3.35l-3.35-3.35zM506.5 883.8l3.35 3.35l-3.35 3.35l-3.35-3.35zM508.9 883.1l3.35 3.35l-3.35 3.35l-3.35-3.35zM455.0 887.5l3.35 3.35l-3.35 3.35l-3.35-3.35zM464.9 889.6l3.35 3.35l-3.35 3.35l-3.35-3.35zM470.9 889.0l3.35 3.35l-3.35 3.35l-3.35-3.35zM505.3 894.4l3.35 3.35l-3.35 3.35l-3.35-3.35zM562.3 891.1l3.35 3.35l-3.35 3.35l-3.35-3.35zM578.8 894.4l3.35 3.35l-3.35 3.35l-3.35-3.35zM594.4 888.1l3.35 3.35l-3.35 3.35l-3.35-3.35zM676.2 896.5l3.35 3.35l-3.35 3.35l-3.35-3.35zM686.7 892.9l3.35 3.35l-3.35 3.35l-3.35-3.35zM727.7 902.5l3.35 3.35l-3.35 3.35l-3.35-3.35zM455.9 902.5l3.35 3.35l-3.35 3.35l-3.35-3.35zM457.1 909.4l3.35 3.35l-3.35 3.35l-3.35-3.35zM471.5 905.5l3.35 3.35l-3.35 3.35l-3.35-3.35zM475.4 900.4l3.35 3.35l-3.35 3.35l-3.35-3.35zM493.4 908.5l3.35 3.35l-3.35 3.35l-3.35-3.35zM500.6 904.0l3.35 3.35l-3.35 3.35l-3.35-3.35zM501.5 907.6l3.35 3.35l-3.35 3.35l-3.35-3.35zM490.1 916.9l3.35 3.35l-3.35 3.35l-3.35-3.35zM488.0 925.9l3.35 3.35l-3.35 3.35l-3.35-3.35zM497.6 926.5l3.35 3.35l-3.35 3.35l-3.35-3.35zM456.5 933.1l3.35 3.35l-3.35 3.35l-3.35-3.35zM545.8 913.0l3.35 3.35l-3.35 3.35l-3.35-3.35zM564.4 911.5l3.35 3.35l-3.35 3.35l-3.35-3.35zM568.3 906.4l3.35 3.35l-3.35 3.35l-3.35-3.35zM581.8 923.5l3.35 3.35l-3.35 3.35l-3.35-3.35zM585.4 922.9l3.35 3.35l-3.35 3.35l-3.35-3.35zM592.9 925.9l3.35 3.35l-3.35 3.35l-3.35-3.35zM619.8 906.1l3.35 3.35l-3.35 3.35l-3.35-3.35zM621.9 907.0l3.35 3.35l-3.35 3.35l-3.35-3.35zM649.8 906.4l3.35 3.35l-3.35 3.35l-3.35-3.35zM662.4 906.1l3.35 3.35l-3.35 3.35l-3.35-3.35zM680.4 913.9l3.35 3.35l-3.35 3.35l-3.35-3.35zM682.2 916.9l3.35 3.35l-3.35 3.35l-3.35-3.35zM688.2 908.5l3.35 3.35l-3.35 3.35l-3.35-3.35zM713.6 921.1l3.35 3.35l-3.35 3.35l-3.35-3.35zM652.8 932.5l3.35 3.35l-3.35 3.35l-3.35-3.35zM666.9 930.1l3.35 3.35l-3.35 3.35l-3.35-3.35zM677.4 928.9l3.35 3.35l-3.35 3.35l-3.35-3.35zM657.9 943.9l3.35 3.35l-3.35 3.35l-3.35-3.35zM625.2 943.9l3.35 3.35l-3.35 3.35l-3.35-3.35zM522.4 940.6l3.35 3.35l-3.35 3.35l-3.35-3.35zM539.8 951.4l3.35 3.35l-3.35 3.35l-3.35-3.35zM517.9 959.5l3.35 3.35l-3.35 3.35l-3.35-3.35zM515.8 963.1l3.35 3.35l-3.35 3.35l-3.35-3.35zM526.3 960.4l3.35 3.35l-3.35 3.35l-3.35-3.35zM494.0 965.5l3.35 3.35l-3.35 3.35l-3.35-3.35zM480.5 953.5l3.35 3.35l-3.35 3.35l-3.35-3.35zM587.8 963.1l3.35 3.35l-3.35 3.35l-3.35-3.35zM611.4 981.4l3.35 3.35l-3.35 3.35l-3.35-3.35zM618.9 976.6l3.35 3.35l-3.35 3.35l-3.35-3.35zM616.2 990.4l3.35 3.35l-3.35 3.35l-3.35-3.35zM613.8 1002.4l3.35 3.35l-3.35 3.35l-3.35-3.35zM580.9 996.4l3.35 3.35l-3.35 3.35l-3.35-3.35zM544.3 1005.4l3.35 3.35l-3.35 3.35l-3.35-3.35zM543.4 1012.9l3.35 3.35l-3.35 3.35l-3.35-3.35zM550.9 1011.4l3.35 3.35l-3.35 3.35l-3.35-3.35zM545.5 1020.0l3.35 3.35l-3.35 3.35l-3.35-3.35zM571.0 1018.5l3.35 3.35l-3.35 3.35l-3.35-3.35zM587.5 1017.0l3.35 3.35l-3.35 3.35l-3.35-3.35zM598.9 1024.6l3.35 3.35l-3.35 3.35l-3.35-3.35zM601.8 1026.1l3.35 3.35l-3.35 3.35l-3.35-3.35zM522.4 1018.5l3.35 3.35l-3.35 3.35l-3.35-3.35zM524.8 1024.6l3.35 3.35l-3.35 3.35l-3.35-3.35zM527.8 1024.6l3.35 3.35l-3.35 3.35l-3.35-3.35zM489.5 999.4l3.35 3.35l-3.35 3.35l-3.35-3.35zM487.1 1002.9l3.35 3.35l-3.35 3.35l-3.35-3.35zM470.6 1009.5l3.35 3.35l-3.35 3.35l-3.35-3.35zM478.4 1013.4l3.35 3.35l-3.35 3.35l-3.35-3.35zM500.9 1020.0l3.35 3.35l-3.35 3.35l-3.35-3.35zM457.4 1041.1l3.35 3.35l-3.35 3.35l-3.35-3.35zM467.6 1039.9l3.35 3.35l-3.35 3.35l-3.35-3.35zM512.8 1045.0l3.35 3.35l-3.35 3.35l-3.35-3.35zM519.4 1046.5l3.35 3.35l-3.35 3.35l-3.35-3.35zM557.5 1051.9l3.35 3.35l-3.35 3.35l-3.35-3.35zM498.5 1060.6l3.35 3.35l-3.35 3.35l-3.35-3.35zM538.9 1060.9l3.35 3.35l-3.35 3.35l-3.35-3.35zM476.9 1069.0l3.35 3.35l-3.35 3.35l-3.35-3.35zM612.3 1047.1l3.35 3.35l-3.35 3.35l-3.35-3.35zM619.8 1051.6l3.35 3.35l-3.35 3.35l-3.35-3.35zM637.2 1033.6l3.35 3.35l-3.35 3.35l-3.35-3.35zM669.3 1041.4l3.35 3.35l-3.35 3.35l-3.35-3.35zM669.9 1043.5l3.35 3.35l-3.35 3.35l-3.35-3.35zM636.3 1004.4l3.35 3.35l-3.35 3.35l-3.35-3.35zM648.3 1007.4l3.35 3.35l-3.35 3.35l-3.35-3.35zM686.7 1008.9l3.35 3.35l-3.35 3.35l-3.35-3.35zM683.7 991.5l3.35 3.35l-3.35 3.35l-3.35-3.35zM697.8 944.5l3.35 3.35l-3.35 3.35l-3.35-3.35zM700.7 945.1l3.35 3.35l-3.35 3.35l-3.35-3.35zM703.1 937.0l3.35 3.35l-3.35 3.35l-3.35-3.35zM727.7 943.6l3.35 3.35l-3.35 3.35l-3.35-3.35zM729.8 950.5l3.35 3.35l-3.35 3.35l-3.35-3.35zM719.6 975.1l3.35 3.35l-3.35 3.35l-3.35-3.35zM712.7 982.0l3.35 3.35l-3.35 3.35l-3.35-3.35zM712.1 991.5l3.35 3.35l-3.35 3.35l-3.35-3.35zM723.8 998.4l3.35 3.35l-3.35 3.35l-3.35-3.35zM729.2 1002.0l3.35 3.35l-3.35 3.35l-3.35-3.35zM707.6 1021.6l3.35 3.35l-3.35 3.35l-3.35-3.35zM719.6 1029.4l3.35 3.35l-3.35 3.35l-3.35-3.35zM717.2 1051.0l3.35 3.35l-3.35 3.35l-3.35-3.35zM743.3 1069.0l3.35 3.35l-3.35 3.35l-3.35-3.35zM583.9 1079.5l3.35 3.35l-3.35 3.35l-3.35-3.35zM623.4 1076.5l3.35 3.35l-3.35 3.35l-3.35-3.35zM648.9 1075.9l3.35 3.35l-3.35 3.35l-3.35-3.35zM653.4 1091.4l3.35 3.35l-3.35 3.35l-3.35-3.35zM694.8 1096.8l3.35 3.35l-3.35 3.35l-3.35-3.35zM705.2 1101.9l3.35 3.35l-3.35 3.35l-3.35-3.35zM712.7 1101.0l3.35 3.35l-3.35 3.35l-3.35-3.35zM722.6 1092.2l3.35 3.35l-3.35 3.35l-3.35-3.35zM683.7 1104.9l3.35 3.35l-3.35 3.35l-3.35-3.35zM454.4 1091.4l3.35 3.35l-3.35 3.35l-3.35-3.35zM468.5 1101.2l3.35 3.35l-3.35 3.35l-3.35-3.35zM525.4 1090.5l3.35 3.35l-3.35 3.35l-3.35-3.35zM532.9 1095.9l3.35 3.35l-3.35 3.35l-3.35-3.35zM554.8 1093.5l3.35 3.35l-3.35 3.35l-3.35-3.35zM574.3 1095.2l3.35 3.35l-3.35 3.35l-3.35-3.35zM503.8 1111.8l3.35 3.35l-3.35 3.35l-3.35-3.35zM626.7 1041.4l3.35 3.35l-3.35 3.35l-3.35-3.35zM709.7 1124.1l3.35 3.35l-3.35 3.35l-3.35-3.35zM711.9 1133.4l3.35 3.35l-3.35 3.35l-3.35-3.35zM717.4 1131.7l3.35 3.35l-3.35 3.35l-3.35-3.35zM752.2 1121.5l3.35 3.35l-3.35 3.35l-3.35-3.35zM820.6 1122.8l3.35 3.35l-3.35 3.35l-3.35-3.35zM769.2 1138.9l3.35 3.35l-3.35 3.35l-3.35-3.35zM731.0 1150.4l3.35 3.35l-3.35 3.35l-3.35-3.35zM869.8 1147.4l3.35 3.35l-3.35 3.35l-3.35-3.35zM816.7 1156.8l3.35 3.35l-3.35 3.35l-3.35-3.35zM714.8 1161.0l3.35 3.35l-3.35 3.35l-3.35-3.35zM703.4 1166.1l3.35 3.35l-3.35 3.35l-3.35-3.35zM801.0 1166.1l3.35 3.35l-3.35 3.35l-3.35-3.35zM767.5 6.2l3.35 3.35l-3.35 3.35l-3.35-3.35zM826.9 6.6l3.35 3.35l-3.35 3.35l-3.35-3.35zM853.8 7.2l3.35 3.35l-3.35 3.35l-3.35-3.35zM762.4 26.6l3.35 3.35l-3.35 3.35l-3.35-3.35zM764.2 28.4l3.35 3.35l-3.35 3.35l-3.35-3.35zM990.2 40.1l3.35 3.35l-3.35 3.35l-3.35-3.35zM886.8 71.6l3.35 3.35l-3.35 3.35l-3.35-3.35zM989.6 81.5l3.35 3.35l-3.35 3.35l-3.35-3.35zM757.9 107.0l3.35 3.35l-3.35 3.35l-3.35-3.35zM762.4 107.6l3.35 3.35l-3.35 3.35l-3.35-3.35zM808.9 134.6l3.35 3.35l-3.35 3.35l-3.35-3.35zM775.9 142.1l3.35 3.35l-3.35 3.35l-3.35-3.35zM835.9 151.6l3.35 3.35l-3.35 3.35l-3.35-3.35zM873.3 149.5l3.35 3.35l-3.35 3.35l-3.35-3.35zM880.8 152.5l3.35 3.35l-3.35 3.35l-3.35-3.35zM820.9 160.0l3.35 3.35l-3.35 3.35l-3.35-3.35zM856.8 160.8l3.35 3.35l-3.35 3.35l-3.35-3.35zM954.8 160.6l3.35 3.35l-3.35 3.35l-3.35-3.35zM788.5 168.3l3.35 3.35l-3.35 3.35l-3.35-3.35zM752.5 190.6l3.35 3.35l-3.35 3.35l-3.35-3.35zM853.2 208.2l3.35 3.35l-3.35 3.35l-3.35-3.35zM854.4 211.2l3.35 3.35l-3.35 3.35l-3.35-3.35zM889.2 214.6l3.35 3.35l-3.35 3.35l-3.35-3.35zM907.8 214.0l3.35 3.35l-3.35 3.35l-3.35-3.35zM835.9 218.5l3.35 3.35l-3.35 3.35l-3.35-3.35zM863.7 224.5l3.35 3.35l-3.35 3.35l-3.35-3.35zM889.2 222.1l3.35 3.35l-3.35 3.35l-3.35-3.35zM879.9 228.3l3.35 3.35l-3.35 3.35l-3.35-3.35zM803.5 253.2l3.35 3.35l-3.35 3.35l-3.35-3.35zM805.9 255.0l3.35 3.35l-3.35 3.35l-3.35-3.35zM766.9 258.2l3.35 3.35l-3.35 3.35l-3.35-3.35zM774.4 262.8l3.35 3.35l-3.35 3.35l-3.35-3.35zM982.1 266.3l3.35 3.35l-3.35 3.35l-3.35-3.35zM802.9 275.9l3.35 3.35l-3.35 3.35l-3.35-3.35zM758.5 280.2l3.35 3.35l-3.35 3.35l-3.35-3.35zM835.0 284.8l3.35 3.35l-3.35 3.35l-3.35-3.35zM931.2 281.4l3.35 3.35l-3.35 3.35l-3.35-3.35zM918.9 291.6l3.35 3.35l-3.35 3.35l-3.35-3.35zM901.8 300.0l3.35 3.35l-3.35 3.35l-3.35-3.35zM966.8 296.1l3.35 3.35l-3.35 3.35l-3.35-3.35zM947.4 309.0l3.35 3.35l-3.35 3.35l-3.35-3.35zM775.9 298.2l3.35 3.35l-3.35 3.35l-3.35-3.35zM777.4 298.2l3.35 3.35l-3.35 3.35l-3.35-3.35zM811.3 303.0l3.35 3.35l-3.35 3.35l-3.35-3.35zM824.5 312.6l3.35 3.35l-3.35 3.35l-3.35-3.35zM761.5 307.5l3.35 3.35l-3.35 3.35l-3.35-3.35zM770.8 322.5l3.35 3.35l-3.35 3.35l-3.35-3.35zM858.9 317.1l3.35 3.35l-3.35 3.35l-3.35-3.35zM883.2 312.6l3.35 3.35l-3.35 3.35l-3.35-3.35zM942.9 327.5l3.35 3.35l-3.35 3.35l-3.35-3.35zM833.5 327.5l3.35 3.35l-3.35 3.35l-3.35-3.35zM753.4 330.8l3.35 3.35l-3.35 3.35l-3.35-3.35zM788.8 340.4l3.35 3.35l-3.35 3.35l-3.35-3.35zM772.9 336.5l3.35 3.35l-3.35 3.35l-3.35-3.35zM812.8 350.3l3.35 3.35l-3.35 3.35l-3.35-3.35zM878.7 353.9l3.35 3.35l-3.35 3.35l-3.35-3.35zM763.9 358.1l3.35 3.35l-3.35 3.35l-3.35-3.35zM829.3 365.6l3.35 3.35l-3.35 3.35l-3.35-3.35zM780.4 368.0l3.35 3.35l-3.35 3.35l-3.35-3.35zM769.3 375.5l3.35 3.35l-3.35 3.35l-3.35-3.35zM799.3 368.6l3.35 3.35l-3.35 3.35l-3.35-3.35zM942.3 377.3l3.35 3.35l-3.35 3.35l-3.35-3.35zM754.9 395.3l3.35 3.35l-3.35 3.35l-3.35-3.35zM787.9 392.6l3.35 3.35l-3.35 3.35l-3.35-3.35zM821.5 405.5l3.35 3.35l-3.35 3.35l-3.35-3.35zM851.7 407.6l3.35 3.35l-3.35 3.35l-3.35-3.35zM845.8 412.1l3.35 3.35l-3.35 3.35l-3.35-3.35zM850.2 413.9l3.35 3.35l-3.35 3.35l-3.35-3.35zM833.8 417.5l3.35 3.35l-3.35 3.35l-3.35-3.35zM838.0 418.1l3.35 3.35l-3.35 3.35l-3.35-3.35zM875.7 410.0l3.35 3.35l-3.35 3.35l-3.35-3.35zM882.0 416.3l3.35 3.35l-3.35 3.35l-3.35-3.35zM778.3 422.3l3.35 3.35l-3.35 3.35l-3.35-3.35zM797.5 419.9l3.35 3.35l-3.35 3.35l-3.35-3.35zM867.9 431.5l3.35 3.35l-3.35 3.35l-3.35-3.35zM760.0 434.8l3.35 3.35l-3.35 3.35l-3.35-3.35zM798.4 431.8l3.35 3.35l-3.35 3.35l-3.35-3.35zM820.9 433.3l3.35 3.35l-3.35 3.35l-3.35-3.35zM839.8 436.0l3.35 3.35l-3.35 3.35l-3.35-3.35zM947.4 439.3l3.35 3.35l-3.35 3.35l-3.35-3.35zM961.7 438.4l3.35 3.35l-3.35 3.35l-3.35-3.35zM913.8 451.3l3.35 3.35l-3.35 3.35l-3.35-3.35zM802.9 454.0l3.35 3.35l-3.35 3.35l-3.35-3.35zM814.3 451.0l3.35 3.35l-3.35 3.35l-3.35-3.35zM793.9 460.9l3.35 3.35l-3.35 3.35l-3.35-3.35zM835.0 457.0l3.35 3.35l-3.35 3.35l-3.35-3.35zM799.0 476.5l3.35 3.35l-3.35 3.35l-3.35-3.35zM872.7 470.8l3.35 3.35l-3.35 3.35l-3.35-3.35zM881.4 470.8l3.35 3.35l-3.35 3.35l-3.35-3.35zM757.9 484.0l3.35 3.35l-3.35 3.35l-3.35-3.35zM844.9 488.8l3.35 3.35l-3.35 3.35l-3.35-3.35zM799.3 491.5l3.35 3.35l-3.35 3.35l-3.35-3.35zM754.3 501.4l3.35 3.35l-3.35 3.35l-3.35-3.35zM763.0 499.0l3.35 3.35l-3.35 3.35l-3.35-3.35zM779.8 502.0l3.35 3.35l-3.35 3.35l-3.35-3.35zM790.3 503.5l3.35 3.35l-3.35 3.35l-3.35-3.35zM845.8 502.9l3.35 3.35l-3.35 3.35l-3.35-3.35zM922.2 500.5l3.35 3.35l-3.35 3.35l-3.35-3.35zM753.4 518.9l3.35 3.35l-3.35 3.35l-3.35-3.35zM758.5 524.8l3.35 3.35l-3.35 3.35l-3.35-3.35zM759.4 525.9l3.35 3.35l-3.35 3.35l-3.35-3.35zM776.5 517.9l3.35 3.35l-3.35 3.35l-3.35-3.35zM783.4 523.9l3.35 3.35l-3.35 3.35l-3.35-3.35zM805.9 528.4l3.35 3.35l-3.35 3.35l-3.35-3.35zM777.4 546.4l3.35 3.35l-3.35 3.35l-3.35-3.35zM880.8 546.4l3.35 3.35l-3.35 3.35l-3.35-3.35zM911.7 542.1l3.35 3.35l-3.35 3.35l-3.35-3.35zM992.3 555.4l3.35 3.35l-3.35 3.35l-3.35-3.35zM865.2 555.9l3.35 3.35l-3.35 3.35l-3.35-3.35zM775.3 564.8l3.35 3.35l-3.35 3.35l-3.35-3.35zM925.8 569.5l3.35 3.35l-3.35 3.35l-3.35-3.35zM790.3 603.8l3.35 3.35l-3.35 3.35l-3.35-3.35zM825.4 604.6l3.35 3.35l-3.35 3.35l-3.35-3.35zM841.9 633.6l3.35 3.35l-3.35 3.35l-3.35-3.35zM759.4 637.5l3.35 3.35l-3.35 3.35l-3.35-3.35zM794.5 639.6l3.35 3.35l-3.35 3.35l-3.35-3.35zM763.0 648.6l3.35 3.35l-3.35 3.35l-3.35-3.35zM911.7 653.4l3.35 3.35l-3.35 3.35l-3.35-3.35zM951.2 651.0l3.35 3.35l-3.35 3.35l-3.35-3.35zM772.9 672.6l3.35 3.35l-3.35 3.35l-3.35-3.35zM802.9 675.4l3.35 3.35l-3.35 3.35l-3.35-3.35zM814.0 672.0l3.35 3.35l-3.35 3.35l-3.35-3.35zM870.3 684.6l3.35 3.35l-3.35 3.35l-3.35-3.35zM964.1 689.4l3.35 3.35l-3.35 3.35l-3.35-3.35zM788.8 693.4l3.35 3.35l-3.35 3.35l-3.35-3.35zM820.3 706.4l3.35 3.35l-3.35 3.35l-3.35-3.35zM832.0 707.4l3.35 3.35l-3.35 3.35l-3.35-3.35zM847.0 711.9l3.35 3.35l-3.35 3.35l-3.35-3.35zM839.5 719.9l3.35 3.35l-3.35 3.35l-3.35-3.35zM849.9 731.0l3.35 3.35l-3.35 3.35l-3.35-3.35zM813.4 721.4l3.35 3.35l-3.35 3.35l-3.35-3.35zM833.5 732.9l3.35 3.35l-3.35 3.35l-3.35-3.35zM760.0 719.9l3.35 3.35l-3.35 3.35l-3.35-3.35zM772.0 718.4l3.35 3.35l-3.35 3.35l-3.35-3.35zM778.9 720.9l3.35 3.35l-3.35 3.35l-3.35-3.35zM773.8 726.5l3.35 3.35l-3.35 3.35l-3.35-3.35zM768.4 729.5l3.35 3.35l-3.35 3.35l-3.35-3.35zM782.8 727.4l3.35 3.35l-3.35 3.35l-3.35-3.35zM756.4 743.9l3.35 3.35l-3.35 3.35l-3.35-3.35zM891.9 722.4l3.35 3.35l-3.35 3.35l-3.35-3.35zM907.2 719.4l3.35 3.35l-3.35 3.35l-3.35-3.35zM981.2 718.4l3.35 3.35l-3.35 3.35l-3.35-3.35zM972.2 733.4l3.35 3.35l-3.35 3.35l-3.35-3.35zM771.4 751.4l3.35 3.35l-3.35 3.35l-3.35-3.35zM888.9 776.0l3.35 3.35l-3.35 3.35l-3.35-3.35zM903.9 783.5l3.35 3.35l-3.35 3.35l-3.35-3.35zM868.2 788.9l3.35 3.35l-3.35 3.35l-3.35-3.35zM880.2 805.9l3.35 3.35l-3.35 3.35l-3.35-3.35zM888.9 813.8l3.35 3.35l-3.35 3.35l-3.35-3.35zM905.4 812.2l3.35 3.35l-3.35 3.35l-3.35-3.35zM923.7 818.9l3.35 3.35l-3.35 3.35l-3.35-3.35zM979.7 805.4l3.35 3.35l-3.35 3.35l-3.35-3.35zM755.8 805.4l3.35 3.35l-3.35 3.35l-3.35-3.35zM760.9 810.8l3.35 3.35l-3.35 3.35l-3.35-3.35zM780.4 820.4l3.35 3.35l-3.35 3.35l-3.35-3.35zM789.4 822.4l3.35 3.35l-3.35 3.35l-3.35-3.35zM796.0 820.9l3.35 3.35l-3.35 3.35l-3.35-3.35zM829.0 832.9l3.35 3.35l-3.35 3.35l-3.35-3.35zM787.0 843.2l3.35 3.35l-3.35 3.35l-3.35-3.35zM802.9 849.5l3.35 3.35l-3.35 3.35l-3.35-3.35zM858.9 839.0l3.35 3.35l-3.35 3.35l-3.35-3.35zM772.0 853.8l3.35 3.35l-3.35 3.35l-3.35-3.35zM778.0 857.6l3.35 3.35l-3.35 3.35l-3.35-3.35zM796.9 860.0l3.35 3.35l-3.35 3.35l-3.35-3.35zM806.5 879.2l3.35 3.35l-3.35 3.35l-3.35-3.35zM821.5 876.2l3.35 3.35l-3.35 3.35l-3.35-3.35zM843.4 874.1l3.35 3.35l-3.35 3.35l-3.35-3.35zM817.9 890.5l3.35 3.35l-3.35 3.35l-3.35-3.35zM928.2 867.5l3.35 3.35l-3.35 3.35l-3.35-3.35zM757.0 889.0l3.35 3.35l-3.35 3.35l-3.35-3.35zM755.5 893.5l3.35 3.35l-3.35 3.35l-3.35-3.35zM777.4 897.4l3.35 3.35l-3.35 3.35l-3.35-3.35zM793.9 894.1l3.35 3.35l-3.35 3.35l-3.35-3.35zM764.5 916.9l3.35 3.35l-3.35 3.35l-3.35-3.35zM936.9 913.9l3.35 3.35l-3.35 3.35l-3.35-3.35zM953.3 917.5l3.35 3.35l-3.35 3.35l-3.35-3.35zM972.2 921.4l3.35 3.35l-3.35 3.35l-3.35-3.35zM976.7 924.4l3.35 3.35l-3.35 3.35l-3.35-3.35zM949.7 931.6l3.35 3.35l-3.35 3.35l-3.35-3.35zM997.7 934.9l3.35 3.35l-3.35 3.35l-3.35-3.35zM767.5 943.9l3.35 3.35l-3.35 3.35l-3.35-3.35zM790.0 943.9l3.35 3.35l-3.35 3.35l-3.35-3.35zM790.9 950.5l3.35 3.35l-3.35 3.35l-3.35-3.35zM793.3 958.0l3.35 3.35l-3.35 3.35l-3.35-3.35zM946.2 957.4l3.35 3.35l-3.35 3.35l-3.35-3.35zM886.8 965.5l3.35 3.35l-3.35 3.35l-3.35-3.35zM903.9 967.0l3.35 3.35l-3.35 3.35l-3.35-3.35zM978.2 969.1l3.35 3.35l-3.35 3.35l-3.35-3.35zM766.0 973.9l3.35 3.35l-3.35 3.35l-3.35-3.35zM784.9 981.4l3.35 3.35l-3.35 3.35l-3.35-3.35zM791.8 976.9l3.35 3.35l-3.35 3.35l-3.35-3.35zM806.8 976.6l3.35 3.35l-3.35 3.35l-3.35-3.35zM837.4 979.0l3.35 3.35l-3.35 3.35l-3.35-3.35zM858.9 984.4l3.35 3.35l-3.35 3.35l-3.35-3.35zM862.2 992.4l3.35 3.35l-3.35 3.35l-3.35-3.35zM812.5 992.4l3.35 3.35l-3.35 3.35l-3.35-3.35zM904.8 992.4l3.35 3.35l-3.35 3.35l-3.35-3.35zM929.4 993.0l3.35 3.35l-3.35 3.35l-3.35-3.35zM995.6 993.9l3.35 3.35l-3.35 3.35l-3.35-3.35zM775.0 997.9l3.35 3.35l-3.35 3.35l-3.35-3.35zM791.8 1013.4l3.35 3.35l-3.35 3.35l-3.35-3.35zM841.9 1017.9l3.35 3.35l-3.35 3.35l-3.35-3.35zM889.2 1020.0l3.35 3.35l-3.35 3.35l-3.35-3.35zM902.4 1017.0l3.35 3.35l-3.35 3.35l-3.35-3.35zM925.2 1021.6l3.35 3.35l-3.35 3.35l-3.35-3.35zM768.4 1033.9l3.35 3.35l-3.35 3.35l-3.35-3.35zM769.0 1036.9l3.35 3.35l-3.35 3.35l-3.35-3.35zM783.4 1038.1l3.35 3.35l-3.35 3.35l-3.35-3.35zM848.5 1041.1l3.35 3.35l-3.35 3.35l-3.35-3.35zM835.3 1067.5l3.35 3.35l-3.35 3.35l-3.35-3.35zM957.2 1066.9l3.35 3.35l-3.35 3.35l-3.35-3.35zM797.5 1081.0l3.35 3.35l-3.35 3.35l-3.35-3.35zM880.8 1085.4l3.35 3.35l-3.35 3.35l-3.35-3.35zM790.0 1103.4l3.35 3.35l-3.35 3.35l-3.35-3.35zM808.3 1100.4l3.35 3.35l-3.35 3.35l-3.35-3.35z"/>
<path fill="#5a5a5a" d="M316.85 10.55h1.1v1.1h-1.1zM334.25 0.95h1.1v1.1h-1.1zM400.15 21.35h1.1v1.1h-1.1zM417.25 19.25h1.1v1.1h-1.1zM276.45 38.75h1.1v1.1h-1.1zM407.05 45.05h1.1v1.1h-1.1zM431.95 54.25h1.1v1.1h-1.1zM350.45 62.95h1.1v1.1h-1.1zM442.15 64.75h1.1v1.1h-1.1zM420.25 70.75h1.1v1.1h-1.1zM187.45 80.95h1.1v1.1h-1.1zM262.35 79.75h1.1v1.1h-1.1zM271.35 76.75h1.1v1.1h-1.1zM432.25 83.95h1.1v1.1h-1.1zM380.45 105.55h1.1v1.1h-1.1zM391.55 113.35h1.1v1.1h-1.1zM325.25 115.15h1.1v1.1h-1.1zM373.55 119.35h1.1v1.1h-1.1zM427.45 118.75h1.1v1.1h-1.1zM443.65 112.45h1.1v1.1h-1.1zM372.95 130.75h1.1v1.1h-1.1zM373.85 136.75h1.1v1.1h-1.1zM351.05 148.95h1.1v1.1h-1.1zM444.25 143.35h1.1v1.1h-1.1zM428.95 179.85h1.1v1.1h-1.1zM403.15 206.25h1.1v1.1h-1.1zM296.85 223.65h1.1v1.1h-1.1zM361.25 233.25h1.1v1.1h-1.1zM414.25 232.65h1.1v1.1h-1.1zM417.55 238.65h1.1v1.1h-1.1zM323.45 237.15h1.1v1.1h-1.1zM378.95 244.65h1.1v1.1h-1.1zM443.65 243.15h1.1v1.1h-1.1zM409.75 255.95h1.1v1.1h-1.1zM393.05 260.15h1.1v1.1h-1.1zM305.45 264.65h1.1v1.1h-1.1zM349.25 263.75h1.1v1.1h-1.1zM433.45 267.05h1.1v1.1h-1.1zM434.05 271.55h1.1v1.1h-1.1zM411.55 275.75h1.1v1.1h-1.1zM446.65 277.55h1.1v1.1h-1.1zM353.15 1137.05h1.1v1.1h-1.1zM427.45 1137.05h1.1v1.1h-1.1zM420.25 1141.65h1.1v1.1h-1.1zM464.35 1126.35h1.1v1.1h-1.1zM544.15 1130.65h1.1v1.1h-1.1zM393.45 1148.85h1.1v1.1h-1.1zM422.35 1152.25h1.1v1.1h-1.1zM427.45 1153.15h1.1v1.1h-1.1zM441.45 1154.45h1.1v1.1h-1.1zM273.75 1154.45h1.1v1.1h-1.1zM297.05 1150.15h1.1v1.1h-1.1zM495.35 1153.95h1.1v1.1h-1.1zM525.95 1153.15h1.1v1.1h-1.1zM550.55 1159.55h1.1v1.1h-1.1zM462.25 1159.95h1.1v1.1h-1.1zM452.05 1165.85h1.1v1.1h-1.1zM516.55 1165.05h1.1v1.1h-1.1zM555.65 1170.15h1.1v1.1h-1.1zM343.35 1170.15h1.1v1.1h-1.1zM280.35 299.55h1.1v1.1h-1.1zM309.05 301.95h1.1v1.1h-1.1zM274.95 311.85h1.1v1.1h-1.1zM295.35 310.65h1.1v1.1h-1.1zM241.95 328.05h1.1v1.1h-1.1zM286.35 332.75h1.1v1.1h-1.1zM320.45 330.35h1.1v1.1h-1.1zM331.25 338.75h1.1v1.1h-1.1zM358.25 292.05h1.1v1.1h-1.1zM360.35 295.35h1.1v1.1h-1.1zM422.65 286.95h1.1v1.1h-1.1zM368.75 310.05h1.1v1.1h-1.1zM394.85 308.55h1.1v1.1h-1.1zM430.75 311.85h1.1v1.1h-1.1zM446.65 313.95h1.1v1.1h-1.1zM415.75 328.35h1.1v1.1h-1.1zM429.25 328.95h1.1v1.1h-1.1zM416.95 338.45h1.1v1.1h-1.1zM372.65 332.75h1.1v1.1h-1.1zM370.55 343.25h1.1v1.1h-1.1zM373.55 351.35h1.1v1.1h-1.1zM324.35 368.45h1.1v1.1h-1.1zM342.95 376.55h1.1v1.1h-1.1zM366.65 377.45h1.1v1.1h-1.1zM372.05 375.05h1.1v1.1h-1.1zM390.65 380.15h1.1v1.1h-1.1zM410.95 370.25h1.1v1.1h-1.1zM234.75 385.85h1.1v1.1h-1.1zM326.75 396.35h1.1v1.1h-1.1zM400.15 394.85h1.1v1.1h-1.1zM407.65 398.45h1.1v1.1h-1.1zM157.45 410.15h1.1v1.1h-1.1zM288.75 421.85h1.1v1.1h-1.1zM387.35 416.75h1.1v1.1h-1.1zM405.55 416.45h1.1v1.1h-1.1zM376.85 428.05h1.1v1.1h-1.1zM390.65 428.05h1.1v1.1h-1.1zM424.15 420.35h1.1v1.1h-1.1zM443.65 417.35h1.1v1.1h-1.1zM443.65 425.45h1.1v1.1h-1.1zM421.15 430.15h1.1v1.1h-1.1zM432.25 434.65h1.1v1.1h-1.1zM448.15 399.35h1.1v1.1h-1.1zM400.75 441.55h1.1v1.1h-1.1zM420.25 446.65h1.1v1.1h-1.1zM419.05 455.35h1.1v1.1h-1.1zM444.55 456.25h1.1v1.1h-1.1zM450.55 452.35h1.1v1.1h-1.1zM395.75 464.65h1.1v1.1h-1.1zM414.25 465.25h1.1v1.1h-1.1zM448.15 471.25h1.1v1.1h-1.1zM228.75 467.05h1.1v1.1h-1.1zM223.35 473.35h1.1v1.1h-1.1zM259.35 475.15h1.1v1.1h-1.1zM328.25 471.85h1.1v1.1h-1.1zM349.25 479.65h1.1v1.1h-1.1zM351.65 482.65h1.1v1.1h-1.1zM363.65 473.65h1.1v1.1h-1.1zM321.35 491.95h1.1v1.1h-1.1zM235.35 497.65h1.1v1.1h-1.1zM226.95 504.85h1.1v1.1h-1.1zM297.75 501.85h1.1v1.1h-1.1zM274.95 508.15h1.1v1.1h-1.1zM266.85 520.15h1.1v1.1h-1.1zM301.25 526.15h1.1v1.1h-1.1zM266.85 538.65h1.1v1.1h-1.1zM264.75 552.15h1.1v1.1h-1.1zM353.15 498.25h1.1v1.1h-1.1zM368.75 495.25h1.1v1.1h-1.1zM339.65 510.25h1.1v1.1h-1.1zM359.75 510.25h1.1v1.1h-1.1zM397.85 500.65h1.1v1.1h-1.1zM390.35 512.65h1.1v1.1h-1.1zM421.15 510.85h1.1v1.1h-1.1zM421.15 515.65h1.1v1.1h-1.1zM444.55 492.25h1.1v1.1h-1.1zM380.15 532.65h1.1v1.1h-1.1zM428.65 531.15h1.1v1.1h-1.1zM436.15 530.25h1.1v1.1h-1.1zM444.55 532.65h1.1v1.1h-1.1zM389.15 543.75h1.1v1.1h-1.1zM373.85 554.25h1.1v1.1h-1.1zM415.15 551.55h1.1v1.1h-1.1zM427.75 563.95h1.1v1.1h-1.1zM334.25 578.95h1.1v1.1h-1.1zM354.65 582.85h1.1v1.1h-1.1zM376.85 581.95h1.1v1.1h-1.1zM398.75 576.85h1.1v1.1h-1.1zM402.55 589.45h1.1v1.1h-1.1zM446.65 578.05h1.1v1.1h-1.1zM434.65 590.95h1.1v1.1h-1.1zM271.35 603.85h1.1v1.1h-1.1zM334.85 605.05h1.1v1.1h-1.1zM381.35 609.45h1.1v1.1h-1.1zM404.05 614.85h1.1v1.1h-1.1zM417.25 616.95h1.1v1.1h-1.1zM296.85 628.95h1.1v1.1h-1.1zM320.75 632.25h1.1v1.1h-1.1zM334.25 631.35h1.1v1.1h-1.1zM256.95 647.55h1.1v1.1h-1.1zM297.45 646.95h1.1v1.1h-1.1zM302.15 654.75h1.1v1.1h-1.1zM396.65 649.95h1.1v1.1h-1.1zM245.85 665.85h1.1v1.1h-1.1zM345.65 669.75h1.1v1.1h-1.1zM369.65 665.85h1.1v1.1h-1.1zM386.75 664.95h1.1v1.1h-1.1zM434.05 664.95h1.1v1.1h-1.1zM307.85 671.85h1.1v1.1h-1.1zM305.75 674.85h1.1v1.1h-1.1zM408.55 679.35h1.1v1.1h-1.1zM431.65 681.75h1.1v1.1h-1.1zM448.15 685.35h1.1v1.1h-1.1zM236.85 689.85h1.1v1.1h-1.1zM261.45 687.75h1.1v1.1h-1.1zM277.35 687.75h1.1v1.1h-1.1zM267.75 699.15h1.1v1.1h-1.1zM264.45 713.15h1.1v1.1h-1.1zM300.35 717.35h1.1v1.1h-1.1zM331.25 717.35h1.1v1.1h-1.1zM337.25 708.35h1.1v1.1h-1.1zM348.35 707.25h1.1v1.1h-1.1zM370.85 718.25h1.1v1.1h-1.1zM450.25 716.75h1.1v1.1h-1.1zM318.65 745.85h1.1v1.1h-1.1zM337.85 744.65h1.1v1.1h-1.1zM363.65 744.35h1.1v1.1h-1.1zM409.15 739.25h1.1v1.1h-1.1zM424.75 739.25h1.1v1.1h-1.1zM436.15 733.85h1.1v1.1h-1.1zM436.15 739.25h1.1v1.1h-1.1zM419.05 744.35h1.1v1.1h-1.1zM402.25 751.85h1.1v1.1h-1.1zM405.55 758.15h1.1v1.1h-1.1zM415.15 756.65h1.1v1.1h-1.1zM272.85 759.65h1.1v1.1h-1.1zM327.65 766.85h1.1v1.1h-1.1zM350.75 772.25h1.1v1.1h-1.1zM365.15 767.75h1.1v1.1h-1.1zM373.85 772.85h1.1v1.1h-1.1zM388.25 766.25h1.1v1.1h-1.1zM392.75 782.75h1.1v1.1h-1.1zM427.15 776.75h1.1v1.1h-1.1zM344.15 797.15h1.1v1.1h-1.1zM397.25 799.25h1.1v1.1h-1.1zM415.15 794.15h1.1v1.1h-1.1zM271.35 812.95h1.1v1.1h-1.1zM183.55 819.25h1.1v1.1h-1.1zM227.85 827.05h1.1v1.1h-1.1zM261.75 830.65h1.1v1.1h-1.1zM310.25 823.15h1.1v1.1h-1.1zM365.15 823.15h1.1v1.1h-1.1zM358.25 837.55h1.1v1.1h-1.1zM415.75 826.75h1.1v1.1h-1.1zM428.65 823.75h1.1v1.1h-1.1zM435.55 836.65h1.1v1.1h-1.1zM443.65 834.55h1.1v1.1h-1.1zM206.85 849.95h1.1v1.1h-1.1zM410.65 841.85h1.1v1.1h-1.1zM438.55 857.45h1.1v1.1h-1.1zM281.25 865.85h1.1v1.1h-1.1zM323.45 861.35h1.1v1.1h-1.1zM387.35 861.35h1.1v1.1h-1.1zM271.95 882.05h1.1v1.1h-1.1zM281.85 888.05h1.1v1.1h-1.1zM306.35 892.45h1.1v1.1h-1.1zM331.25 883.55h1.1v1.1h-1.1zM363.65 886.55h1.1v1.1h-1.1zM259.35 905.95h1.1v1.1h-1.1zM398.75 903.25h1.1v1.1h-1.1zM430.15 896.35h1.1v1.1h-1.1zM438.25 909.85h1.1v1.1h-1.1zM212.85 930.25h1.1v1.1h-1.1zM323.15 929.35h1.1v1.1h-1.1zM291.45 942.85h1.1v1.1h-1.1zM361.25 935.95h1.1v1.1h-1.1zM409.15 925.45h1.1v1.1h-1.1zM414.55 926.35h1.1v1.1h-1.1zM423.55 936.25h1.1v1.1h-1.1zM431.65 935.35h1.1v1.1h-1.1zM385.25 947.95h1.1v1.1h-1.1zM397.25 949.45h1.1v1.1h-1.1zM447.25 949.45h1.1v1.1h-1.1zM422.65 956.95h1.1v1.1h-1.1zM360.65 960.25h1.1v1.1h-1.1zM386.75 960.25h1.1v1.1h-1.1zM392.15 960.85h1.1v1.1h-1.1zM292.35 968.35h1.1v1.1h-1.1zM255.75 976.45h1.1v1.1h-1.1zM330.35 981.25h1.1v1.1h-1.1zM388.25 989.25h1.1v1.1h-1.1zM285.45 994.65h1.1v1.1h-1.1zM330.35 995.85h1.1v1.1h-1.1zM448.15 1009.35h1.1v1.1h-1.1zM215.85 1033.35h1.1v1.1h-1.1zM240.45 1029.75h1.1v1.1h-1.1zM403.15 1022.25h1.1v1.1h-1.1zM381.65 1025.85h1.1v1.1h-1.1zM375.65 1033.65h1.1v1.1h-1.1zM393.65 1038.75h1.1v1.1h-1.1zM427.15 1018.65h1.1v1.1h-1.1zM424.75 1034.25h1.1v1.1h-1.1zM448.15 1030.35h1.1v1.1h-1.1zM320.75 1046.25h1.1v1.1h-1.1zM419.65 1047.15h1.1v1.1h-1.1zM386.15 1059.15h1.1v1.1h-1.1zM365.75 1066.35h1.1v1.1h-1.1zM373.85 1070.25h1.1v1.1h-1.1zM256.95 1068.75h1.1v1.1h-1.1zM251.25 1075.35h1.1v1.1h-1.1zM202.35 1087.25h1.1v1.1h-1.1zM320.15 1087.55h1.1v1.1h-1.1zM334.25 1094.75h1.1v1.1h-1.1zM341.75 1100.75h1.1v1.1h-1.1zM333.35 1104.65h1.1v1.1h-1.1zM332.15 1109.15h1.1v1.1h-1.1zM278.85 1102.55h1.1v1.1h-1.1zM262.35 1112.75h1.1v1.1h-1.1zM253.35 1115.15h1.1v1.1h-1.1zM337.85 1117.55h1.1v1.1h-1.1zM441.25 1071.75h1.1v1.1h-1.1zM447.25 1068.75h1.1v1.1h-1.1zM438.25 1099.25h1.1v1.1h-1.1zM446.65 1099.25h1.1v1.1h-1.1zM436.75 1113.65h1.1v1.1h-1.1zM424.15 1118.75h1.1v1.1h-1.1zM453.85 6.05h1.1v1.1h-1.1zM506.25 12.05h1.1v1.1h-1.1zM691.25 1.85h1.1v1.1h-1.1zM719.65 5.45h1.1v1.1h-1.1zM612.35 17.45h1.1v1.1h-1.1zM667.85 10.85h1.1v1.1h-1.1zM656.75 18.95h1.1v1.1h-1.1zM654.05 21.95h1.1v1.1h-1.1zM721.15 26.45h1.1v1.1h-1.1zM536.85 28.55h1.1v1.1h-1.1zM562.35 33.35h1.1v1.1h-1.1zM608.15 31.85h1.1v1.1h-1.1zM624.05 32.45h1.1v1.1h-1.1zM677.75 30.35h1.1v1.1h-1.1zM681.95 37.55h1.1v1.1h-1.1zM579.45 45.05h1.1v1.1h-1.1zM536.55 45.95h1.1v1.1h-1.1zM538.35 50.35h1.1v1.1h-1.1zM532.95 55.15h1.1v1.1h-1.1zM594.45 54.25h1.1v1.1h-1.1zM610.85 56.95h1.1v1.1h-1.1zM462.55 56.95h1.1v1.1h-1.1zM482.35 56.65h1.1v1.1h-1.1zM455.95 64.75h1.1v1.1h-1.1zM661.25 59.35h1.1v1.1h-1.1zM635.75 64.75h1.1v1.1h-1.1zM513.45 74.35h1.1v1.1h-1.1zM516.75 79.45h1.1v1.1h-1.1zM583.95 68.35h1.1v1.1h-1.1zM585.15 74.95h1.1v1.1h-1.1zM587.25 80.95h1.1v1.1h-1.1zM546.45 77.95h1.1v1.1h-1.1zM632.15 78.85h1.1v1.1h-1.1zM701.65 76.75h1.1v1.1h-1.1zM467.95 88.15h1.1v1.1h-1.1zM520.95 89.95h1.1v1.1h-1.1zM565.35 94.75h1.1v1.1h-1.1zM562.95 99.85h1.1v1.1h-1.1zM570.45 98.95h1.1v1.1h-1.1zM611.15 93.85h1.1v1.1h-1.1zM619.85 104.35h1.1v1.1h-1.1zM483.85 110.95h1.1v1.1h-1.1zM597.45 114.25h1.1v1.1h-1.1zM607.25 112.15h1.1v1.1h-1.1zM622.55 115.45h1.1v1.1h-1.1zM622.85 115.75h1.1v1.1h-1.1zM630.35 124.75h1.1v1.1h-1.1zM632.15 132.85h1.1v1.1h-1.1zM575.25 124.75h1.1v1.1h-1.1zM548.25 136.15h1.1v1.1h-1.1zM545.55 144.85h1.1v1.1h-1.1zM578.25 145.75h1.1v1.1h-1.1zM470.05 130.75h1.1v1.1h-1.1zM473.95 144.25h1.1v1.1h-1.1zM452.95 147.85h1.1v1.1h-1.1zM473.05 154.35h1.1v1.1h-1.1zM511.35 144.85h1.1v1.1h-1.1zM648.65 144.85h1.1v1.1h-1.1zM655.55 143.35h1.1v1.1h-1.1zM678.35 142.45h1.1v1.1h-1.1zM688.25 132.85h1.1v1.1h-1.1zM707.05 135.85h1.1v1.1h-1.1zM709.75 132.85h1.1v1.1h-1.1zM701.95 119.35h1.1v1.1h-1.1zM720.55 113.65h1.1v1.1h-1.1zM744.25 107.95h1.1v1.1h-1.1zM745.75 124.75h1.1v1.1h-1.1zM744.25 138.85h1.1v1.1h-1.1zM739.15 143.35h1.1v1.1h-1.1zM464.35 180.75h1.1v1.1h-1.1zM483.55 186.75h1.1v1.1h-1.1zM486.85 197.25h1.1v1.1h-1.1zM487.15 197.85h1.1v1.1h-1.1zM484.45 210.75h1.1v1.1h-1.1zM511.95 181.65h1.1v1.1h-1.1zM523.35 174.15h1.1v1.1h-1.1zM566.55 172.05h1.1v1.1h-1.1zM568.35 171.75h1.1v1.1h-1.1zM621.05 172.65h1.1v1.1h-1.1zM622.85 176.25h1.1v1.1h-1.1zM646.25 180.15h1.1v1.1h-1.1zM646.25 190.65h1.1v1.1h-1.1zM628.25 190.05h1.1v1.1h-1.1zM618.65 194.25h1.1v1.1h-1.1zM623.75 201.75h1.1v1.1h-1.1zM627.65 202.65h1.1v1.1h-1.1zM594.75 202.65h1.1v1.1h-1.1zM550.35 197.85h1.1v1.1h-1.1zM658.25 197.25h1.1v1.1h-1.1zM659.15 209.25h1.1v1.1h-1.1zM707.05 176.85h1.1v1.1h-1.1zM732.55 179.85h1.1v1.1h-1.1zM729.55 195.75h1.1v1.1h-1.1zM740.95 191.25h1.1v1.1h-1.1zM742.15 198.15h1.1v1.1h-1.1zM720.55 212.25h1.1v1.1h-1.1zM729.55 212.25h1.1v1.1h-1.1zM748.15 212.85h1.1v1.1h-1.1zM452.95 206.85h1.1v1.1h-1.1zM572.85 221.25h1.1v1.1h-1.1zM589.95 222.75h1.1v1.1h-1.1zM506.85 229.35h1.1v1.1h-1.1zM616.25 239.25h1.1v1.1h-1.1zM563.85 244.35h1.1v1.1h-1.1zM542.25 245.85h1.1v1.1h-1.1zM526.35 249.05h1.1v1.1h-1.1zM520.35 255.05h1.1v1.1h-1.1zM524.85 264.65h1.1v1.1h-1.1zM550.95 263.15h1.1v1.1h-1.1zM586.35 268.25h1.1v1.1h-1.1zM489.85 242.25h1.1v1.1h-1.1zM482.35 247.55h1.1v1.1h-1.1zM470.95 271.25h1.1v1.1h-1.1zM481.45 276.65h1.1v1.1h-1.1zM494.95 275.75h1.1v1.1h-1.1zM638.75 257.75h1.1v1.1h-1.1zM665.75 246.75h1.1v1.1h-1.1zM686.75 253.25h1.1v1.1h-1.1zM708.25 236.25h1.1v1.1h-1.1zM716.05 255.05h1.1v1.1h-1.1zM618.65 268.55h1.1v1.1h-1.1zM632.75 268.55h1.1v1.1h-1.1zM709.15 262.55h1.1v1.1h-1.1zM481.45 280.35h1.1v1.1h-1.1zM493.45 295.95h1.1v1.1h-1.1zM511.95 298.05h1.1v1.1h-1.1zM546.75 293.85h1.1v1.1h-1.1zM547.95 295.05h1.1v1.1h-1.1zM566.85 292.05h1.1v1.1h-1.1zM566.25 298.05h1.1v1.1h-1.1zM584.25 301.05h1.1v1.1h-1.1zM595.35 292.95h1.1v1.1h-1.1zM652.85 280.95h1.1v1.1h-1.1zM652.25 289.95h1.1v1.1h-1.1zM655.85 289.35h1.1v1.1h-1.1zM651.65 295.05h1.1v1.1h-1.1zM655.25 295.95h1.1v1.1h-1.1zM645.35 298.05h1.1v1.1h-1.1zM669.35 297.45h1.1v1.1h-1.1zM697.85 286.95h1.1v1.1h-1.1zM476.95 314.85h1.1v1.1h-1.1zM456.85 325.05h1.1v1.1h-1.1zM461.95 333.95h1.1v1.1h-1.1zM462.85 334.85h1.1v1.1h-1.1zM472.45 327.45h1.1v1.1h-1.1zM543.45 322.35h1.1v1.1h-1.1zM567.75 321.45h1.1v1.1h-1.1zM569.85 325.05h1.1v1.1h-1.1zM579.75 319.05h1.1v1.1h-1.1zM580.35 328.95h1.1v1.1h-1.1zM640.85 311.85h1.1v1.1h-1.1zM694.85 319.05h1.1v1.1h-1.1zM721.15 315.45h1.1v1.1h-1.1zM660.65 325.05h1.1v1.1h-1.1zM510.75 337.85h1.1v1.1h-1.1zM493.45 341.75h1.1v1.1h-1.1zM522.75 345.35h1.1v1.1h-1.1zM541.95 340.85h1.1v1.1h-1.1zM540.75 351.35h1.1v1.1h-1.1zM546.75 358.85h1.1v1.1h-1.1zM571.35 348.95h1.1v1.1h-1.1zM453.85 348.95h1.1v1.1h-1.1zM458.95 356.75h1.1v1.1h-1.1zM463.45 358.85h1.1v1.1h-1.1zM604.85 347.75h1.1v1.1h-1.1zM588.75 346.85h1.1v1.1h-1.1zM638.75 336.95h1.1v1.1h-1.1zM643.85 334.85h1.1v1.1h-1.1zM639.05 344.75h1.1v1.1h-1.1zM644.15 351.35h1.1v1.1h-1.1zM651.65 357.95h1.1v1.1h-1.1zM652.25 358.85h1.1v1.1h-1.1zM588.75 360.95h1.1v1.1h-1.1zM629.15 369.35h1.1v1.1h-1.1zM675.65 372.95h1.1v1.1h-1.1zM699.55 366.35h1.1v1.1h-1.1zM727.75 372.95h1.1v1.1h-1.1zM738.55 380.75h1.1v1.1h-1.1zM453.85 375.35h1.1v1.1h-1.1zM496.45 369.95h1.1v1.1h-1.1zM494.95 374.75h1.1v1.1h-1.1zM518.25 373.25h1.1v1.1h-1.1zM532.35 374.15h1.1v1.1h-1.1zM467.35 393.95h1.1v1.1h-1.1zM482.35 387.95h1.1v1.1h-1.1zM494.35 392.45h1.1v1.1h-1.1zM569.85 387.35h1.1v1.1h-1.1zM574.35 390.35h1.1v1.1h-1.1zM571.95 394.85h1.1v1.1h-1.1zM586.35 387.35h1.1v1.1h-1.1zM588.15 386.75h1.1v1.1h-1.1zM600.65 378.35h1.1v1.1h-1.1zM647.75 381.35h1.1v1.1h-1.1zM652.85 392.45h1.1v1.1h-1.1zM659.15 396.95h1.1v1.1h-1.1zM452.95 400.85h1.1v1.1h-1.1zM562.95 402.95h1.1v1.1h-1.1zM554.85 411.35h1.1v1.1h-1.1zM569.85 410.45h1.1v1.1h-1.1zM574.95 418.85h1.1v1.1h-1.1zM516.75 410.45h1.1v1.1h-1.1zM519.75 413.45h1.1v1.1h-1.1zM607.85 417.35h1.1v1.1h-1.1zM628.25 408.95h1.1v1.1h-1.1zM646.85 408.35h1.1v1.1h-1.1zM694.85 409.85h1.1v1.1h-1.1zM670.85 418.85h1.1v1.1h-1.1zM473.35 427.85h1.1v1.1h-1.1zM487.45 424.25h1.1v1.1h-1.1zM480.85 433.75h1.1v1.1h-1.1zM470.05 438.25h1.1v1.1h-1.1zM542.25 422.45h1.1v1.1h-1.1zM523.95 430.15h1.1v1.1h-1.1zM534.75 434.35h1.1v1.1h-1.1zM544.35 432.25h1.1v1.1h-1.1zM551.85 434.35h1.1v1.1h-1.1zM547.35 439.75h1.1v1.1h-1.1zM544.95 442.75h1.1v1.1h-1.1zM575.85 435.85h1.1v1.1h-1.1zM621.35 433.75h1.1v1.1h-1.1zM640.25 430.15h1.1v1.1h-1.1zM677.75 437.65h1.1v1.1h-1.1zM738.25 426.95h1.1v1.1h-1.1zM728.05 445.75h1.1v1.1h-1.1zM488.95 445.15h1.1v1.1h-1.1zM572.85 448.75h1.1v1.1h-1.1zM614.15 450.25h1.1v1.1h-1.1zM619.85 448.15h1.1v1.1h-1.1zM691.25 451.15h1.1v1.1h-1.1zM664.85 454.15h1.1v1.1h-1.1zM674.75 459.25h1.1v1.1h-1.1zM682.25 466.75h1.1v1.1h-1.1zM747.55 467.35h1.1v1.1h-1.1zM482.05 456.85h1.1v1.1h-1.1zM488.95 462.85h1.1v1.1h-1.1zM517.95 458.65h1.1v1.1h-1.1zM524.85 463.75h1.1v1.1h-1.1zM607.25 462.25h1.1v1.1h-1.1zM644.75 463.75h1.1v1.1h-1.1zM710.65 471.85h1.1v1.1h-1.1zM511.35 474.25h1.1v1.1h-1.1zM527.85 475.75h1.1v1.1h-1.1zM470.05 475.75h1.1v1.1h-1.1zM612.65 474.25h1.1v1.1h-1.1zM604.85 477.25h1.1v1.1h-1.1zM640.85 477.25h1.1v1.1h-1.1zM646.25 478.75h1.1v1.1h-1.1zM669.65 480.85h1.1v1.1h-1.1zM566.85 481.75h1.1v1.1h-1.1zM550.35 484.75h1.1v1.1h-1.1zM588.45 484.15h1.1v1.1h-1.1zM728.65 486.25h1.1v1.1h-1.1zM702.55 490.15h1.1v1.1h-1.1zM479.95 487.75h1.1v1.1h-1.1zM482.95 490.75h1.1v1.1h-1.1zM490.45 499.75h1.1v1.1h-1.1zM494.95 506.65h1.1v1.1h-1.1zM456.85 507.85h1.1v1.1h-1.1zM542.25 492.85h1.1v1.1h-1.1zM564.45 498.25h1.1v1.1h-1.1zM554.85 506.35h1.1v1.1h-1.1zM686.75 500.65h1.1v1.1h-1.1zM704.05 501.85h1.1v1.1h-1.1zM711.25 499.75h1.1v1.1h-1.1zM726.55 512.35h1.1v1.1h-1.1zM649.25 508.75h1.1v1.1h-1.1zM640.25 511.15h1.1v1.1h-1.1zM604.25 509.65h1.1v1.1h-1.1zM588.45 512.65h1.1v1.1h-1.1zM596.85 503.65h1.1v1.1h-1.1zM626.15 516.85h1.1v1.1h-1.1zM632.75 522.85h1.1v1.1h-1.1zM704.65 518.35h1.1v1.1h-1.1zM704.05 523.75h1.1v1.1h-1.1zM503.25 519.85h1.1v1.1h-1.1zM515.25 516.25h1.1v1.1h-1.1zM512.85 525.85h1.1v1.1h-1.1zM530.25 527.25h1.1v1.1h-1.1zM532.95 528.75h1.1v1.1h-1.1zM546.75 530.55h1.1v1.1h-1.1zM540.75 534.15h1.1v1.1h-1.1zM563.85 532.65h1.1v1.1h-1.1zM564.75 536.55h1.1v1.1h-1.1zM514.35 534.75h1.1v1.1h-1.1zM460.45 535.05h1.1v1.1h-1.1zM489.55 536.25h1.1v1.1h-1.1zM680.75 533.55h1.1v1.1h-1.1zM475.45 551.55h1.1v1.1h-1.1zM508.35 551.55h1.1v1.1h-1.1zM530.85 547.05h1.1v1.1h-1.1zM551.85 545.25h1.1v1.1h-1.1zM553.35 549.15h1.1v1.1h-1.1zM556.35 552.15h1.1v1.1h-1.1zM535.35 556.65h1.1v1.1h-1.1zM649.25 558.15h1.1v1.1h-1.1zM686.75 558.15h1.1v1.1h-1.1zM717.55 555.75h1.1v1.1h-1.1zM464.95 563.05h1.1v1.1h-1.1zM496.45 567.85h1.1v1.1h-1.1zM461.35 574.45h1.1v1.1h-1.1zM460.45 581.05h1.1v1.1h-1.1zM488.95 582.85h1.1v1.1h-1.1zM500.95 579.85h1.1v1.1h-1.1zM492.55 593.35h1.1v1.1h-1.1zM523.35 584.05h1.1v1.1h-1.1zM532.95 599.35h1.1v1.1h-1.1zM547.35 597.85h1.1v1.1h-1.1zM559.35 600.85h1.1v1.1h-1.1zM540.75 609.75h1.1v1.1h-1.1zM545.85 607.45h1.1v1.1h-1.1zM556.35 614.25h1.1v1.1h-1.1zM504.45 607.45h1.1v1.1h-1.1zM516.75 612.75h1.1v1.1h-1.1zM488.95 614.85h1.1v1.1h-1.1zM488.35 616.35h1.1v1.1h-1.1zM468.85 623.85h1.1v1.1h-1.1zM538.35 624.75h1.1v1.1h-1.1zM550.35 627.75h1.1v1.1h-1.1zM517.95 631.35h1.1v1.1h-1.1zM492.85 628.95h1.1v1.1h-1.1zM486.85 632.85h1.1v1.1h-1.1zM577.35 565.45h1.1v1.1h-1.1zM616.25 566.05h1.1v1.1h-1.1zM620.15 572.05h1.1v1.1h-1.1zM592.95 599.05h1.1v1.1h-1.1zM584.25 614.85h1.1v1.1h-1.1zM586.95 616.35h1.1v1.1h-1.1zM572.25 634.95h1.1v1.1h-1.1zM582.45 631.35h1.1v1.1h-1.1zM592.35 630.75h1.1v1.1h-1.1zM624.65 591.85h1.1v1.1h-1.1zM634.85 584.35h1.1v1.1h-1.1zM645.65 587.95h1.1v1.1h-1.1zM661.25 564.85h1.1v1.1h-1.1zM665.75 575.05h1.1v1.1h-1.1zM661.25 587.95h1.1v1.1h-1.1zM663.65 594.55h1.1v1.1h-1.1zM642.35 608.95h1.1v1.1h-1.1zM666.65 620.85h1.1v1.1h-1.1zM651.65 635.25h1.1v1.1h-1.1zM663.05 630.75h1.1v1.1h-1.1zM677.75 568.45h1.1v1.1h-1.1zM688.25 575.05h1.1v1.1h-1.1zM691.25 573.85h1.1v1.1h-1.1zM704.05 570.55h1.1v1.1h-1.1zM686.75 589.45h1.1v1.1h-1.1zM698.75 592.45h1.1v1.1h-1.1zM702.55 600.85h1.1v1.1h-1.1zM700.15 611.85h1.1v1.1h-1.1zM718.15 586.45h1.1v1.1h-1.1zM722.05 594.85h1.1v1.1h-1.1zM748.15 581.95h1.1v1.1h-1.1zM746.05 610.95h1.1v1.1h-1.1zM746.65 613.35h1.1v1.1h-1.1zM745.15 621.45h1.1v1.1h-1.1zM749.05 624.75h1.1v1.1h-1.1zM714.55 640.95h1.1v1.1h-1.1zM577.35 646.35h1.1v1.1h-1.1zM575.25 657.75h1.1v1.1h-1.1zM582.75 663.75h1.1v1.1h-1.1zM599.85 648.75h1.1v1.1h-1.1zM605.75 648.75h1.1v1.1h-1.1zM600.35 655.95h1.1v1.1h-1.1zM614.75 642.75h1.1v1.1h-1.1zM617.75 639.75h1.1v1.1h-1.1zM619.25 636.75h1.1v1.1h-1.1zM585.45 671.85h1.1v1.1h-1.1zM580.35 682.35h1.1v1.1h-1.1zM584.85 683.25h1.1v1.1h-1.1zM607.85 673.95h1.1v1.1h-1.1zM611.75 672.75h1.1v1.1h-1.1zM621.35 673.95h1.1v1.1h-1.1zM610.25 680.85h1.1v1.1h-1.1zM602.75 691.35h1.1v1.1h-1.1zM580.35 696.45h1.1v1.1h-1.1zM603.65 699.75h1.1v1.1h-1.1zM583.35 707.25h1.1v1.1h-1.1zM510.45 658.35h1.1v1.1h-1.1zM453.85 663.75h1.1v1.1h-1.1zM501.45 671.25h1.1v1.1h-1.1zM455.95 676.35h1.1v1.1h-1.1zM465.85 682.35h1.1v1.1h-1.1zM504.75 681.75h1.1v1.1h-1.1zM503.85 684.75h1.1v1.1h-1.1zM502.95 687.75h1.1v1.1h-1.1zM507.45 689.25h1.1v1.1h-1.1zM514.35 688.35h1.1v1.1h-1.1zM541.95 680.25h1.1v1.1h-1.1zM556.95 682.95h1.1v1.1h-1.1zM559.35 692.25h1.1v1.1h-1.1zM530.85 697.95h1.1v1.1h-1.1zM534.45 704.25h1.1v1.1h-1.1zM495.85 706.35h1.1v1.1h-1.1zM464.05 702.45h1.1v1.1h-1.1zM570.75 713.15h1.1v1.1h-1.1zM652.25 675.75h1.1v1.1h-1.1zM666.65 668.85h1.1v1.1h-1.1zM691.25 679.95h1.1v1.1h-1.1zM731.65 688.95h1.1v1.1h-1.1zM704.65 698.85h1.1v1.1h-1.1zM699.55 703.35h1.1v1.1h-1.1zM703.15 709.25h1.1v1.1h-1.1zM725.65 697.35h1.1v1.1h-1.1zM727.15 698.85h1.1v1.1h-1.1zM747.55 695.85h1.1v1.1h-1.1zM656.75 713.15h1.1v1.1h-1.1zM667.85 726.65h1.1v1.1h-1.1zM678.35 722.15h1.1v1.1h-1.1zM497.95 720.35h1.1v1.1h-1.1zM526.35 722.75h1.1v1.1h-1.1zM537.45 718.85h1.1v1.1h-1.1zM557.85 721.25h1.1v1.1h-1.1zM540.45 731.15h1.1v1.1h-1.1zM488.05 729.35h1.1v1.1h-1.1zM476.95 731.15h1.1v1.1h-1.1zM509.85 740.15h1.1v1.1h-1.1zM514.35 743.75h1.1v1.1h-1.1zM456.55 743.75h1.1v1.1h-1.1zM572.25 740.75h1.1v1.1h-1.1zM567.45 746.75h1.1v1.1h-1.1zM580.95 748.85h1.1v1.1h-1.1zM593.85 750.65h1.1v1.1h-1.1zM606.65 725.15h1.1v1.1h-1.1zM622.25 731.75h1.1v1.1h-1.1zM626.15 728.15h1.1v1.1h-1.1zM633.35 732.65h1.1v1.1h-1.1zM641.15 729.35h1.1v1.1h-1.1zM627.35 740.15h1.1v1.1h-1.1zM658.25 730.85h1.1v1.1h-1.1zM674.75 750.35h1.1v1.1h-1.1zM656.15 751.85h1.1v1.1h-1.1zM688.25 749.75h1.1v1.1h-1.1zM630.65 757.25h1.1v1.1h-1.1zM606.65 754.85h1.1v1.1h-1.1zM625.25 764.15h1.1v1.1h-1.1zM672.65 763.85h1.1v1.1h-1.1zM582.75 761.75h1.1v1.1h-1.1zM571.35 770.75h1.1v1.1h-1.1zM572.85 771.65h1.1v1.1h-1.1zM520.95 760.85h1.1v1.1h-1.1zM521.85 762.35h1.1v1.1h-1.1zM531.75 769.25h1.1v1.1h-1.1zM527.25 772.85h1.1v1.1h-1.1zM503.25 767.15h1.1v1.1h-1.1zM510.45 776.75h1.1v1.1h-1.1zM473.35 758.15h1.1v1.1h-1.1zM452.95 778.25h1.1v1.1h-1.1zM561.45 782.75h1.1v1.1h-1.1zM612.35 777.65h1.1v1.1h-1.1zM661.25 779.75h1.1v1.1h-1.1zM640.85 785.75h1.1v1.1h-1.1zM737.65 721.25h1.1v1.1h-1.1zM733.15 728.75h1.1v1.1h-1.1zM740.05 727.25h1.1v1.1h-1.1zM718.15 734.75h1.1v1.1h-1.1zM722.65 736.85h1.1v1.1h-1.1zM716.65 742.25h1.1v1.1h-1.1zM705.55 744.65h1.1v1.1h-1.1zM704.65 752.15h1.1v1.1h-1.1zM706.15 761.75h1.1v1.1h-1.1zM740.65 738.65h1.1v1.1h-1.1zM722.05 770.15h1.1v1.1h-1.1zM717.55 774.65h1.1v1.1h-1.1zM726.55 774.65h1.1v1.1h-1.1zM733.15 784.25h1.1v1.1h-1.1zM740.05 786.35h1.1v1.1h-1.1zM477.85 797.75h1.1v1.1h-1.1zM488.95 798.35h1.1v1.1h-1.1zM475.45 816.25h1.1v1.1h-1.1zM546.75 805.85h1.1v1.1h-1.1zM564.75 816.25h1.1v1.1h-1.1zM586.35 814.75h1.1v1.1h-1.1zM577.35 794.15h1.1v1.1h-1.1zM579.75 798.35h1.1v1.1h-1.1zM590.85 788.75h1.1v1.1h-1.1zM593.85 800.15h1.1v1.1h-1.1zM605.15 787.25h1.1v1.1h-1.1zM618.35 806.15h1.1v1.1h-1.1zM634.25 803.75h1.1v1.1h-1.1zM627.65 818.65h1.1v1.1h-1.1zM632.15 817.15h1.1v1.1h-1.1zM656.15 815.65h1.1v1.1h-1.1zM661.25 828.25h1.1v1.1h-1.1zM689.75 815.05h1.1v1.1h-1.1zM710.65 805.25h1.1v1.1h-1.1zM726.55 824.65h1.1v1.1h-1.1zM533.85 835.15h1.1v1.1h-1.1zM470.95 838.15h1.1v1.1h-1.1zM481.45 849.35h1.1v1.1h-1.1zM488.05 843.95h1.1v1.1h-1.1zM588.75 846.95h1.1v1.1h-1.1zM626.15 846.35h1.1v1.1h-1.1zM644.15 840.95h1.1v1.1h-1.1zM668.15 840.95h1.1v1.1h-1.1zM676.85 843.95h1.1v1.1h-1.1zM727.75 841.85h1.1v1.1h-1.1zM534.45 859.55h1.1v1.1h-1.1zM590.85 858.95h1.1v1.1h-1.1zM597.45 863.45h1.1v1.1h-1.1zM654.65 859.85h1.1v1.1h-1.1zM730.75 855.05h1.1v1.1h-1.1zM741.25 863.45h1.1v1.1h-1.1zM746.65 869.45h1.1v1.1h-1.1zM488.95 865.55h1.1v1.1h-1.1zM494.35 872.45h1.1v1.1h-1.1zM562.95 877.85h1.1v1.1h-1.1zM594.45 874.85h1.1v1.1h-1.1zM645.35 880.85h1.1v1.1h-1.1zM722.05 882.35h1.1v1.1h-1.1zM697.85 885.95h1.1v1.1h-1.1zM505.95 886.55h1.1v1.1h-1.1zM508.35 885.95h1.1v1.1h-1.1zM454.45 890.35h1.1v1.1h-1.1zM464.35 892.45h1.1v1.1h-1.1zM470.35 891.85h1.1v1.1h-1.1zM504.75 897.25h1.1v1.1h-1.1zM561.75 893.95h1.1v1.1h-1.1zM578.25 897.25h1.1v1.1h-1.1zM593.85 890.95h1.1v1.1h-1.1zM675.65 899.35h1.1v1.1h-1.1zM686.15 895.75h1.1v1.1h-1.1zM727.15 905.35h1.1v1.1h-1.1zM455.35 905.35h1.1v1.1h-1.1zM456.55 912.25h1.1v1.1h-1.1zM470.95 908.35h1.1v1.1h-1.1zM474.85 903.25h1.1v1.1h-1.1zM492.85 911.35h1.1v1.1h-1.1zM500.05 906.85h1.1v1.1h-1.1zM500.95 910.45h1.1v1.1h-1.1zM489.55 919.75h1.1v1.1h-1.1zM487.45 928.75h1.1v1.1h-1.1zM497.05 929.35h1.1v1.1h-1.1zM455.95 935.95h1.1v1.1h-1.1zM545.25 915.85h1.1v1.1h-1.1zM563.85 914.35h1.1v1.1h-1.1zM567.75 909.25h1.1v1.1h-1.1zM581.25 926.35h1.1v1.1h-1.1zM584.85 925.75h1.1v1.1h-1.1zM592.35 928.75h1.1v1.1h-1.1zM619.25 908.95h1.1v1.1h-1.1zM621.35 909.85h1.1v1.1h-1.1zM649.25 909.25h1.1v1.1h-1.1zM661.85 908.95h1.1v1.1h-1.1zM679.85 916.75h1.1v1.1h-1.1zM681.65 919.75h1.1v1.1h-1.1zM687.65 911.35h1.1v1.1h-1.1zM713.05 923.95h1.1v1.1h-1.1zM652.25 935.35h1.1v1.1h-1.1zM666.35 932.95h1.1v1.1h-1.1zM676.85 931.75h1.1v1.1h-1.1zM657.35 946.75h1.1v1.1h-1.1zM624.65 946.75h1.1v1.1h-1.1zM521.85 943.45h1.1v1.1h-1.1zM539.25 954.25h1.1v1.1h-1.1zM517.35 962.35h1.1v1.1h-1.1zM515.25 965.95h1.1v1.1h-1.1zM525.75 963.25h1.1v1.1h-1.1zM493.45 968.35h1.1v1.1h-1.1zM479.95 956.35h1.1v1.1h-1.1zM587.25 965.95h1.1v1.1h-1.1zM610.85 984.25h1.1v1.1h-1.1zM618.35 979.45h1.1v1.1h-1.1zM615.65 993.15h1.1v1.1h-1.1zM613.25 1005.15h1.1v1.1h-1.1zM580.35 999.15h1.1v1.1h-1.1zM543.75 1008.15h1.1v1.1h-1.1zM542.85 1015.65h1.1v1.1h-1.1zM550.35 1014.15h1.1v1.1h-1.1zM544.95 1022.85h1.1v1.1h-1.1zM570.45 1021.35h1.1v1.1h-1.1zM586.95 1019.85h1.1v1.1h-1.1zM598.35 1027.35h1.1v1.1h-1.1zM601.25 1028.85h1.1v1.1h-1.1zM521.85 1021.35h1.1v1.1h-1.1zM524.25 1027.35h1.1v1.1h-1.1zM527.25 1027.35h1.1v1.1h-1.1zM488.95 1002.15h1.1v1.1h-1.1zM486.55 1005.75h1.1v1.1h-1.1zM470.05 1012.35h1.1v1.1h-1.1zM477.85 1016.25h1.1v1.1h-1.1zM500.35 1022.85h1.1v1.1h-1.1zM456.85 1043.85h1.1v1.1h-1.1zM467.05 1042.65h1.1v1.1h-1.1zM512.25 1047.75h1.1v1.1h-1.1zM518.85 1049.25h1.1v1.1h-1.1zM556.95 1054.65h1.1v1.1h-1.1zM497.95 1063.35h1.1v1.1h-1.1zM538.35 1063.65h1.1v1.1h-1.1zM476.35 1071.75h1.1v1.1h-1.1zM611.75 1049.85h1.1v1.1h-1.1zM619.25 1054.35h1.1v1.1h-1.1zM636.65 1036.35h1.1v1.1h-1.1zM668.75 1044.15h1.1v1.1h-1.1zM669.35 1046.25h1.1v1.1h-1.1zM635.75 1007.25h1.1v1.1h-1.1zM647.75 1010.25h1.1v1.1h-1.1zM686.15 1011.75h1.1v1.1h-1.1zM683.15 994.35h1.1v1.1h-1.1zM697.25 947.35h1.1v1.1h-1.1zM700.15 947.95h1.1v1.1h-1.1zM702.55 939.85h1.1v1.1h-1.1zM727.15 946.45h1.1v1.1h-1.1zM729.25 953.35h1.1v1.1h-1.1zM719.05 977.95h1.1v1.1h-1.1zM712.15 984.85h1.1v1.1h-1.1zM711.55 994.35h1.1v1.1h-1.1zM723.25 1001.25h1.1v1.1h-1.1zM728.65 1004.85h1.1v1.1h-1.1zM707.05 1024.35h1.1v1.1h-1.1zM719.05 1032.15h1.1v1.1h-1.1zM716.65 1053.75h1.1v1.1h-1.1zM742.75 1071.75h1.1v1.1h-1.1zM583.35 1082.25h1.1v1.1h-1.1zM622.85 1079.25h1.1v1.1h-1.1zM648.35 1078.65h1.1v1.1h-1.1zM652.85 1094.15h1.1v1.1h-1.1zM694.25 1099.55h1.1v1.1h-1.1zM704.65 1104.65h1.1v1.1h-1.1zM712.15 1103.75h1.1v1.1h-1.1zM722.05 1095.05h1.1v1.1h-1.1zM683.15 1107.65h1.1v1.1h-1.1zM453.85 1094.15h1.1v1.1h-1.1zM467.95 1104.05h1.1v1.1h-1.1zM524.85 1093.25h1.1v1.1h-1.1zM532.35 1098.65h1.1v1.1h-1.1zM554.25 1096.25h1.1v1.1h-1.1zM573.75 1098.05h1.1v1.1h-1.1zM503.25 1114.55h1.1v1.1h-1.1zM626.15 1044.15h1.1v1.1h-1.1zM709.15 1126.85h1.1v1.1h-1.1zM711.35 1136.15h1.1v1.1h-1.1zM716.85 1134.45h1.1v1.1h-1.1zM751.65 1124.25h1.1v1.1h-1.1zM820.05 1125.55h1.1v1.1h-1.1zM768.65 1141.65h1.1v1.1h-1.1zM730.45 1153.15h1.1v1.1h-1.1zM869.25 1150.15h1.1v1.1h-1.1zM816.15 1159.55h1.1v1.1h-1.1zM714.25 1163.75h1.1v1.1h-1.1zM702.85 1168.85h1.1v1.1h-1.1zM800.45 1168.85h1.1v1.1h-1.1zM766.95 9.05h1.1v1.1h-1.1zM826.35 9.35h1.1v1.1h-1.1zM853.25 9.95h1.1v1.1h-1.1zM761.85 29.45h1.1v1.1h-1.1zM763.65 31.25h1.1v1.1h-1.1zM989.65 42.95h1.1v1.1h-1.1zM886.25 74.35h1.1v1.1h-1.1zM989.05 84.25h1.1v1.1h-1.1zM757.35 109.75h1.1v1.1h-1.1zM761.85 110.35h1.1v1.1h-1.1zM808.35 137.35h1.1v1.1h-1.1zM775.35 144.85h1.1v1.1h-1.1zM835.35 154.35h1.1v1.1h-1.1zM872.75 152.25h1.1v1.1h-1.1zM880.25 155.25h1.1v1.1h-1.1zM820.35 162.75h1.1v1.1h-1.1zM856.25 163.65h1.1v1.1h-1.1zM954.25 163.35h1.1v1.1h-1.1zM787.95 171.15h1.1v1.1h-1.1zM751.95 193.35h1.1v1.1h-1.1zM852.65 211.05h1.1v1.1h-1.1zM853.85 214.05h1.1v1.1h-1.1zM888.65 217.35h1.1v1.1h-1.1zM907.25 216.75h1.1v1.1h-1.1zM835.35 221.25h1.1v1.1h-1.1zM863.15 227.25h1.1v1.1h-1.1zM888.65 224.85h1.1v1.1h-1.1zM879.35 231.15h1.1v1.1h-1.1zM802.95 255.95h1.1v1.1h-1.1zM805.35 257.75h1.1v1.1h-1.1zM766.35 261.05h1.1v1.1h-1.1zM773.85 265.55h1.1v1.1h-1.1zM981.55 269.15h1.1v1.1h-1.1zM802.35 278.75h1.1v1.1h-1.1zM757.95 283.05h1.1v1.1h-1.1zM834.45 287.55h1.1v1.1h-1.1zM930.65 284.25h1.1v1.1h-1.1zM918.35 294.45h1.1v1.1h-1.1zM901.25 302.85h1.1v1.1h-1.1zM966.25 298.95h1.1v1.1h-1.1zM946.85 311.85h1.1v1.1h-1.1zM775.35 301.05h1.1v1.1h-1.1zM776.85 301.05h1.1v1.1h-1.1zM810.75 305.85h1.1v1.1h-1.1zM823.95 315.45h1.1v1.1h-1.1zM760.95 310.35h1.1v1.1h-1.1zM770.25 325.35h1.1v1.1h-1.1zM858.35 319.95h1.1v1.1h-1.1zM882.65 315.45h1.1v1.1h-1.1zM942.35 330.35h1.1v1.1h-1.1zM832.95 330.35h1.1v1.1h-1.1zM752.85 333.65h1.1v1.1h-1.1zM788.25 343.25h1.1v1.1h-1.1zM772.35 339.35h1.1v1.1h-1.1zM812.25 353.15h1.1v1.1h-1.1zM878.15 356.75h1.1v1.1h-1.1zM763.35 360.95h1.1v1.1h-1.1zM828.75 368.45h1.1v1.1h-1.1zM779.85 370.85h1.1v1.1h-1.1zM768.75 378.35h1.1v1.1h-1.1zM798.75 371.45h1.1v1.1h-1.1zM941.75 380.15h1.1v1.1h-1.1zM754.35 398.15h1.1v1.1h-1.1zM787.35 395.45h1.1v1.1h-1.1zM820.95 408.35h1.1v1.1h-1.1zM851.15 410.45h1.1v1.1h-1.1zM845.25 414.95h1.1v1.1h-1.1zM849.65 416.75h1.1v1.1h-1.1zM833.25 420.35h1.1v1.1h-1.1zM837.45 420.95h1.1v1.1h-1.1zM875.15 412.85h1.1v1.1h-1.1zM881.45 419.15h1.1v1.1h-1.1zM777.75 425.15h1.1v1.1h-1.1zM796.95 422.75h1.1v1.1h-1.1zM867.35 434.35h1.1v1.1h-1.1zM759.45 437.65h1.1v1.1h-1.1zM797.85 434.65h1.1v1.1h-1.1zM820.35 436.15h1.1v1.1h-1.1zM839.25 438.85h1.1v1.1h-1.1zM946.85 442.15h1.1v1.1h-1.1zM961.15 441.25h1.1v1.1h-1.1zM913.25 454.15h1.1v1.1h-1.1zM802.35 456.85h1.1v1.1h-1.1zM813.75 453.85h1.1v1.1h-1.1zM793.35 463.75h1.1v1.1h-1.1zM834.45 459.85h1.1v1.1h-1.1zM798.45 479.35h1.1v1.1h-1.1zM872.15 473.65h1.1v1.1h-1.1zM880.85 473.65h1.1v1.1h-1.1zM757.35 486.85h1.1v1.1h-1.1zM844.35 491.65h1.1v1.1h-1.1zM798.75 494.35h1.1v1.1h-1.1zM753.75 504.25h1.1v1.1h-1.1zM762.45 501.85h1.1v1.1h-1.1zM779.25 504.85h1.1v1.1h-1.1zM789.75 506.35h1.1v1.1h-1.1zM845.25 505.75h1.1v1.1h-1.1zM921.65 503.35h1.1v1.1h-1.1zM752.85 521.65h1.1v1.1h-1.1zM757.95 527.55h1.1v1.1h-1.1zM758.85 528.75h1.1v1.1h-1.1zM775.95 520.75h1.1v1.1h-1.1zM782.85 526.75h1.1v1.1h-1.1zM805.35 531.15h1.1v1.1h-1.1zM776.85 549.15h1.1v1.1h-1.1zM880.25 549.15h1.1v1.1h-1.1zM911.15 544.95h1.1v1.1h-1.1zM991.75 558.15h1.1v1.1h-1.1zM864.65 558.75h1.1v1.1h-1.1zM774.75 567.55h1.1v1.1h-1.1zM925.25 572.35h1.1v1.1h-1.1zM789.75 606.55h1.1v1.1h-1.1zM824.85 607.45h1.1v1.1h-1.1zM841.35 636.45h1.1v1.1h-1.1zM758.85 640.35h1.1v1.1h-1.1zM793.95 642.45h1.1v1.1h-1.1zM762.45 651.45h1.1v1.1h-1.1zM911.15 656.25h1.1v1.1h-1.1zM950.65 653.85h1.1v1.1h-1.1zM772.35 675.45h1.1v1.1h-1.1zM802.35 678.15h1.1v1.1h-1.1zM813.45 674.85h1.1v1.1h-1.1zM869.75 687.45h1.1v1.1h-1.1zM963.55 692.25h1.1v1.1h-1.1zM788.25 696.15h1.1v1.1h-1.1zM819.75 709.25h1.1v1.1h-1.1zM831.45 710.15h1.1v1.1h-1.1zM846.45 714.65h1.1v1.1h-1.1zM838.95 722.75h1.1v1.1h-1.1zM849.35 733.85h1.1v1.1h-1.1zM812.85 724.25h1.1v1.1h-1.1zM832.95 735.65h1.1v1.1h-1.1zM759.45 722.75h1.1v1.1h-1.1zM771.45 721.25h1.1v1.1h-1.1zM778.35 723.65h1.1v1.1h-1.1zM773.25 729.35h1.1v1.1h-1.1zM767.85 732.35h1.1v1.1h-1.1zM782.25 730.25h1.1v1.1h-1.1zM755.85 746.75h1.1v1.1h-1.1zM891.35 725.15h1.1v1.1h-1.1zM906.65 722.15h1.1v1.1h-1.1zM980.65 721.25h1.1v1.1h-1.1zM971.65 736.25h1.1v1.1h-1.1zM770.85 754.25h1.1v1.1h-1.1zM888.35 778.85h1.1v1.1h-1.1zM903.35 786.35h1.1v1.1h-1.1zM867.65 791.75h1.1v1.1h-1.1zM879.65 808.75h1.1v1.1h-1.1zM888.35 816.55h1.1v1.1h-1.1zM904.85 815.05h1.1v1.1h-1.1zM923.15 821.65h1.1v1.1h-1.1zM979.15 808.15h1.1v1.1h-1.1zM755.25 808.15h1.1v1.1h-1.1zM760.35 813.55h1.1v1.1h-1.1zM779.85 823.15h1.1v1.1h-1.1zM788.85 825.25h1.1v1.1h-1.1zM795.45 823.75h1.1v1.1h-1.1zM828.45 835.75h1.1v1.1h-1.1zM786.45 846.05h1.1v1.1h-1.1zM802.35 852.35h1.1v1.1h-1.1zM858.35 841.85h1.1v1.1h-1.1zM771.45 856.55h1.1v1.1h-1.1zM777.45 860.45h1.1v1.1h-1.1zM796.35 862.85h1.1v1.1h-1.1zM805.95 882.05h1.1v1.1h-1.1zM820.95 879.05h1.1v1.1h-1.1zM842.85 876.95h1.1v1.1h-1.1zM817.35 893.35h1.1v1.1h-1.1zM927.65 870.35h1.1v1.1h-1.1zM756.45 891.85h1.1v1.1h-1.1zM754.95 896.35h1.1v1.1h-1.1zM776.85 900.25h1.1v1.1h-1.1zM793.35 896.95h1.1v1.1h-1.1zM763.95 919.75h1.1v1.1h-1.1zM936.35 916.75h1.1v1.1h-1.1zM952.75 920.35h1.1v1.1h-1.1zM971.65 924.25h1.1v1.1h-1.1zM976.15 927.25h1.1v1.1h-1.1zM949.15 934.45h1.1v1.1h-1.1zM997.15 937.75h1.1v1.1h-1.1zM766.95 946.75h1.1v1.1h-1.1zM789.45 946.75h1.1v1.1h-1.1zM790.35 953.35h1.1v1.1h-1.1zM792.75 960.85h1.1v1.1h-1.1zM945.65 960.25h1.1v1.1h-1.1zM886.25 968.35h1.1v1.1h-1.1zM903.35 969.85h1.1v1.1h-1.1zM977.65 971.95h1.1v1.1h-1.1zM765.45 976.75h1.1v1.1h-1.1zM784.35 984.25h1.1v1.1h-1.1zM791.25 979.75h1.1v1.1h-1.1zM806.25 979.45h1.1v1.1h-1.1zM836.85 981.85h1.1v1.1h-1.1zM858.35 987.25h1.1v1.1h-1.1zM861.65 995.25h1.1v1.1h-1.1zM811.95 995.25h1.1v1.1h-1.1zM904.25 995.25h1.1v1.1h-1.1zM928.85 995.85h1.1v1.1h-1.1zM995.05 996.75h1.1v1.1h-1.1zM774.45 1000.65h1.1v1.1h-1.1zM791.25 1016.25h1.1v1.1h-1.1zM841.35 1020.75h1.1v1.1h-1.1zM888.65 1022.85h1.1v1.1h-1.1zM901.85 1019.85h1.1v1.1h-1.1zM924.65 1024.35h1.1v1.1h-1.1zM767.85 1036.65h1.1v1.1h-1.1zM768.45 1039.65h1.1v1.1h-1.1zM782.85 1040.85h1.1v1.1h-1.1zM847.95 1043.85h1.1v1.1h-1.1zM834.75 1070.25h1.1v1.1h-1.1zM956.65 1069.65h1.1v1.1h-1.1zM796.95 1083.75h1.1v1.1h-1.1zM880.25 1088.15h1.1v1.1h-1.1zM789.45 1106.15h1.1v1.1h-1.1zM807.75 1103.15h1.1v1.1h-1.1z"/>
<circle cx="577.3" cy="1034.8" r="5.2" fill="#000"/>
<g stroke="#000" stroke-width="1.9" fill="none">
<rect x="152.4" y="0.8" width="847.8" height="1173.4"/>
<path d="M183.0 1174.2v-23.6M183.0 0.8v23.6M261.5 1174.2v-11.8M261.5 0.8v11.8M340.0 1174.2v-11.8M340.0 0.8v11.8M418.5 1174.2v-11.8M418.5 0.8v11.8M497.0 1174.2v-23.6M497.0 0.8v23.6M575.5 1174.2v-11.8M575.5 0.8v11.8M654.0 1174.2v-11.8M654.0 0.8v11.8M732.5 1174.2v-11.8M732.5 0.8v11.8M811.0 1174.2v-23.6M811.0 0.8v23.6M889.5 1174.2v-11.8M889.5 0.8v11.8M968.0 1174.2v-11.8M968.0 0.8v11.8M152.4 31.6h8.6M1000.2 31.6h-8.6M152.4 111.0h8.6M1000.2 111.0h-8.6M152.4 190.3h17.2M1000.2 190.3h-17.2M152.4 269.6h8.6M1000.2 269.6h-8.6M152.4 349.0h8.6M1000.2 349.0h-8.6M152.4 428.3h8.6M1000.2 428.3h-8.6M152.4 507.6h17.2M1000.2 507.6h-17.2M152.4 587.0h8.6M1000.2 587.0h-8.6M152.4 666.3h8.6M1000.2 666.3h-8.6M152.4 745.6h8.6M1000.2 745.6h-8.6M152.4 825.0h17.2M1000.2 825.0h-17.2M152.4 904.3h8.6M1000.2 904.3h-8.6M152.4 983.7h8.6M1000.2 983.7h-8.6M152.4 1063.0h8.6M1000.2 1063.0h-8.6M152.4 1142.3h17.2M1000.2 1142.3h-17.2"/>
</g>
<g font-size="36.8" fill="#000" stroke="#000" stroke-width="0.6">
<text transform="translate(141.2 203.4) scale(1.022 1)" text-anchor="end">-20.6</text>
<text transform="translate(141.2 520.7) scale(1.022 1)" text-anchor="end">-20.8</text>
<text transform="translate(141.2 838.1) scale(1.022 1)" text-anchor="end">-21.0</text>
<text transform="translate(141.2 1155.4) scale(1.022 1)" text-anchor="end">-21.2</text>
<text transform="translate(183.1 1221.8) scale(1.022 1)" text-anchor="middle">281.4</text>
<text transform="translate(497.1 1221.8) scale(1.022 1)" text-anchor="middle">281.2</text>
<text transform="translate(811.1 1221.8) scale(1.022 1)" text-anchor="middle">281.0</text>
<text transform="translate(576.8 1262) scale(1.018 1)" text-anchor="middle">RA, deg</text>
<text transform="translate(27.3 586.8) rotate(-90) scale(1.018 1)" text-anchor="middle">Dec, deg</text>
</g>
<g transform="translate(380.8 272.2) rotate(45)" fill="#d0181d"><rect x="-13.2" y="-4.0" width="26.4" height="8.0"/><rect x="-4.0" y="-13.2" width="8.0" height="26.4"/></g>
<g transform="translate(645.7 131.7) rotate(45)" fill="#d0181d"><rect x="-13.2" y="-4.0" width="26.4" height="8.0"/><rect x="-4.0" y="-13.2" width="8.0" height="26.4"/></g>
<g transform="translate(497.9 653.3) rotate(45)" fill="#d0181d"><rect x="-13.2" y="-4.0" width="26.4" height="8.0"/><rect x="-4.0" y="-13.2" width="8.0" height="26.4"/></g>
<g transform="translate(680.4 666.4) rotate(45)" fill="#d0181d"><rect x="-13.2" y="-4.0" width="26.4" height="8.0"/><rect x="-4.0" y="-13.2" width="8.0" height="26.4"/></g>
<g transform="translate(513.3 1084.9) rotate(45)" fill="#d0181d"><rect x="-13.2" y="-4.0" width="26.4" height="8.0"/><rect x="-4.0" y="-13.2" width="8.0" height="26.4"/></g>
<text transform="translate(174.5 203.6) scale(0.985 1)" font-size="31.4" fill="#d0181d" stroke="#d0181d" stroke-width="0.45">2014 OS<tspan font-size="21.5" dy="6.6" dx="0.3">393</tspan></text>
<text transform="translate(728.5 92.7) scale(0.985 1)" font-size="31.4" fill="#d0181d" stroke="#d0181d" stroke-width="0.45">2014 PN<tspan font-size="21.5" dy="6.6" dx="0.3">70</tspan></text>
<text transform="translate(176 596) scale(0.985 1)" font-size="31.4" fill="#d0181d" stroke="#d0181d" stroke-width="0.45">2014 MU<tspan font-size="21.5" dy="6.6" dx="0.3">69</tspan></text>
<rect x="829" y="584" width="150" height="29" fill="#fff" fill-opacity="0.78"/>
<text transform="translate(831 605) scale(0.985 1)" font-size="31.4" fill="#d0181d" stroke="#d0181d" stroke-width="0.45">2014 MT<tspan font-size="21.5" dy="6.6" dx="0.3">69</tspan></text>
<text transform="translate(263 1028.3) scale(0.985 1)" font-size="31.4" fill="#d0181d" stroke="#d0181d" stroke-width="0.45">“PT5”</text>
<path d="M302.3 217.7C325 218 333 240 336 252C339 262 346 268 353 270" fill="none" stroke="#d0181d" stroke-width="2.8" stroke-linecap="round"/>
<polygon fill="#d0181d" points="367,273 351.9,259.3 345.2,277.4"/>
<path d="M717.3 83.6C700 84 692 100 689 110C686 120 682 124 676 126" fill="none" stroke="#d0181d" stroke-width="2.8" stroke-linecap="round"/>
<polygon fill="#d0181d" points="662,131.1 680.7,118.7 683.3,134.3"/>
<path d="M329.7 585C372 586 400 605 408 622C413 640 440 648 465 651" fill="none" stroke="#d0181d" stroke-width="2.8" stroke-linecap="round"/>
<polygon fill="#d0181d" points="478.2,652.5 459.8,643.2 459.8,661.0"/>
<path d="M823.9 592.5C785 595 765 615 758 635C752 655 735 664 716 666" fill="none" stroke="#d0181d" stroke-width="2.8" stroke-linecap="round"/>
<polygon fill="#d0181d" points="698.4,666.7 717.8,657.0 718.7,674.4"/>
<path d="M343 1016.8C385 1018 410 1035 415 1052C420 1070 445 1080 478 1084" fill="none" stroke="#d0181d" stroke-width="2.8" stroke-linecap="round"/>
<polygon fill="#d0181d" points="494.2,1084.9 472.7,1076.6 474.5,1093.4"/>
</svg></body></html>
